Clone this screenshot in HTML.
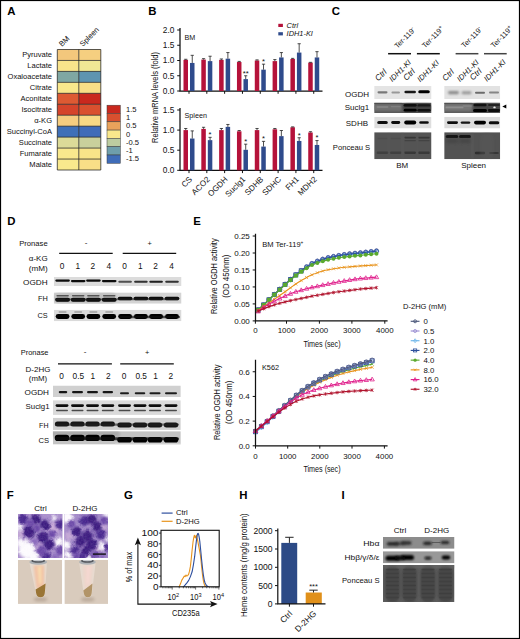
<!DOCTYPE html>
<html><head><meta charset="utf-8"><title>Figure</title>
<style>
html,body{margin:0;padding:0;background:#fff;}
body{width:520px;height:639px;overflow:hidden;font-family:"Liberation Sans",sans-serif;}
svg{display:block;font-family:"Liberation Sans",sans-serif;}
</style></head><body>
<svg width="520" height="639" viewBox="0 0 520 639">
<defs>
<filter id="b1" x="-30%" y="-200%" width="160%" height="500%"><feGaussianBlur stdDeviation="0.6"/></filter>
<filter id="b15" x="-30%" y="-200%" width="160%" height="500%"><feGaussianBlur stdDeviation="0.7"/></filter>
<filter id="b2" x="-30%" y="-200%" width="160%" height="500%"><feGaussianBlur stdDeviation="1.0"/></filter>
<filter id="b3" x="-20%" y="-20%" width="140%" height="140%"><feGaussianBlur stdDeviation="1.6"/></filter>
<filter id="b4" x="-20%" y="-20%" width="140%" height="140%"><feGaussianBlur stdDeviation="2.5"/></filter>
<filter id="disp" x="-5%" y="-5%" width="110%" height="110%"><feTurbulence type="fractalNoise" baseFrequency="0.2" numOctaves="2" seed="7" result="n"/><feDisplacementMap in="SourceGraphic" in2="n" scale="4" xChannelSelector="R" yChannelSelector="G"/></filter>
<filter id="grain" x="0" y="0" width="100%" height="100%"><feTurbulence type="fractalNoise" baseFrequency="0.55" numOctaves="2" seed="3" result="n"/><feColorMatrix in="n" type="matrix" values="0 0 0 0 0  0 0 0 0 0  0 0 0 0 0  0.9 0 0 0 -0.28" result="a"/><feComposite in="SourceGraphic" in2="a" operator="in"/></filter>
</defs>
<rect x="0" y="0" width="520" height="639" fill="#fff"/>

<text x="7.30" y="14.80" font-size="11.4" text-anchor="start" fill="#000" font-weight="bold" >A</text>
<text x="148.30" y="14.80" font-size="11.4" text-anchor="start" fill="#000" font-weight="bold" >B</text>
<text x="331.80" y="14.80" font-size="11.4" text-anchor="start" fill="#000" font-weight="bold" >C</text>
<text x="7.20" y="224.90" font-size="11.4" text-anchor="start" fill="#000" font-weight="bold" >D</text>
<text x="193.30" y="225.20" font-size="11.4" text-anchor="start" fill="#000" font-weight="bold" >E</text>
<text x="6.80" y="499.30" font-size="11.4" text-anchor="start" fill="#000" font-weight="bold" >F</text>
<text x="124.00" y="499.30" font-size="11.4" text-anchor="start" fill="#000" font-weight="bold" >G</text>
<text x="239.30" y="499.30" font-size="11.4" text-anchor="start" fill="#000" font-weight="bold" >H</text>
<text x="341.60" y="499.30" font-size="11.4" text-anchor="start" fill="#000" font-weight="bold" >I</text>
<rect x="57.3" y="49.50" width="21.50" height="10.95" fill="#f3c77c"/>
<rect x="78.8" y="49.50" width="22.00" height="10.95" fill="#f5cf80"/>
<text x="52.00" y="57.38" font-size="7.55" text-anchor="end" fill="#111" >Pyruvate</text>
<rect x="57.3" y="60.45" width="21.50" height="10.95" fill="#f9e48b"/>
<rect x="78.8" y="60.45" width="22.00" height="10.95" fill="#efe895"/>
<text x="52.00" y="68.33" font-size="7.55" text-anchor="end" fill="#111" >Lactate</text>
<rect x="57.3" y="71.41" width="21.50" height="10.95" fill="#7fa7a3"/>
<rect x="78.8" y="71.41" width="22.00" height="10.95" fill="#5e94b0"/>
<text x="52.00" y="79.29" font-size="7.55" text-anchor="end" fill="#111" >Oxaloacetate</text>
<rect x="57.3" y="82.36" width="21.50" height="10.95" fill="#f9e88c"/>
<rect x="78.8" y="82.36" width="22.00" height="10.95" fill="#f8de87"/>
<text x="52.00" y="90.24" font-size="7.55" text-anchor="end" fill="#111" >Citrate</text>
<rect x="57.3" y="93.32" width="21.50" height="10.95" fill="#dd5a33"/>
<rect x="78.8" y="93.32" width="22.00" height="10.95" fill="#c9281e"/>
<text x="52.00" y="101.20" font-size="7.55" text-anchor="end" fill="#111" >Aconitate</text>
<rect x="57.3" y="104.27" width="21.50" height="10.95" fill="#d5442b"/>
<rect x="78.8" y="104.27" width="22.00" height="10.95" fill="#d9502f"/>
<text x="52.00" y="112.15" font-size="7.55" text-anchor="end" fill="#111" >Isocitrate</text>
<rect x="57.3" y="115.23" width="21.50" height="10.95" fill="#f5cd80"/>
<rect x="78.8" y="115.23" width="22.00" height="10.95" fill="#f7d985"/>
<text x="52.00" y="123.10" font-size="7.55" text-anchor="end" fill="#111" >α-KG</text>
<rect x="57.3" y="126.18" width="21.50" height="10.95" fill="#3f70b8"/>
<rect x="78.8" y="126.18" width="22.00" height="10.95" fill="#3f6cb8"/>
<text x="52.00" y="134.06" font-size="7.55" text-anchor="end" fill="#111" >Succinyl-CoA</text>
<rect x="57.3" y="137.14" width="21.50" height="10.95" fill="#dcdb98"/>
<rect x="78.8" y="137.14" width="22.00" height="10.95" fill="#c9d09c"/>
<text x="52.00" y="145.01" font-size="7.55" text-anchor="end" fill="#111" >Succinate</text>
<rect x="57.3" y="148.09" width="21.50" height="10.95" fill="#f9e98d"/>
<rect x="78.8" y="148.09" width="22.00" height="10.95" fill="#f8e489"/>
<text x="52.00" y="155.97" font-size="7.55" text-anchor="end" fill="#111" >Fumarate</text>
<rect x="57.3" y="159.05" width="21.50" height="10.95" fill="#f9e98d"/>
<rect x="78.8" y="159.05" width="22.00" height="10.95" fill="#f8df87"/>
<text x="52.00" y="166.92" font-size="7.55" text-anchor="end" fill="#111" >Malate</text>
<path d="M57.3 49.50H100.8M57.3 60.45H100.8M57.3 71.41H100.8M57.3 82.36H100.8M57.3 93.32H100.8M57.3 104.27H100.8M57.3 115.23H100.8M57.3 126.18H100.8M57.3 137.14H100.8M57.3 148.09H100.8M57.3 159.05H100.8M57.3 170.00H100.8M57.3 49.5V170.0M78.8 49.5V170.0M100.8 49.5V170.0" stroke="#222" stroke-width="0.75" fill="none"/>
<text x="62.00" y="47.00" font-size="7.6" text-anchor="start" fill="#111" transform="rotate(-45 62.00 47.00)" >BM</text>
<text x="82.80" y="47.00" font-size="7.6" text-anchor="start" fill="#111" transform="rotate(-45 82.80 47.00)" >Spleen</text>
<rect x="107" y="105.20" width="13.3" height="8.30" fill="#c9281e" stroke="#3a3a3a" stroke-width="0.5"/>
<text x="126.00" y="111.65" font-size="7.6" text-anchor="start" fill="#111" >1.5</text>
<rect x="107" y="113.50" width="13.3" height="8.30" fill="#d9502f" stroke="#3a3a3a" stroke-width="0.5"/>
<text x="126.00" y="119.95" font-size="7.6" text-anchor="start" fill="#111" >1</text>
<rect x="107" y="121.80" width="13.3" height="8.30" fill="#e9a25b" stroke="#3a3a3a" stroke-width="0.5"/>
<text x="126.00" y="128.25" font-size="7.6" text-anchor="start" fill="#111" >0.5</text>
<rect x="107" y="130.10" width="13.3" height="8.30" fill="#f9e88c" stroke="#3a3a3a" stroke-width="0.5"/>
<text x="126.00" y="136.55" font-size="7.6" text-anchor="start" fill="#111" >0</text>
<rect x="107" y="138.40" width="13.3" height="8.30" fill="#bccca0" stroke="#3a3a3a" stroke-width="0.5"/>
<text x="126.00" y="144.85" font-size="7.6" text-anchor="start" fill="#111" >-0.5</text>
<rect x="107" y="146.70" width="13.3" height="8.30" fill="#6e9eab" stroke="#3a3a3a" stroke-width="0.5"/>
<text x="126.00" y="153.15" font-size="7.6" text-anchor="start" fill="#111" >-1</text>
<rect x="107" y="155.00" width="13.3" height="8.30" fill="#3f6cb8" stroke="#3a3a3a" stroke-width="0.5"/>
<text x="126.00" y="161.45" font-size="7.6" text-anchor="start" fill="#111" >-1.5</text>
<path d="M180.0 28.00V91.0H322.5" stroke="#111" stroke-width="1.25" fill="none"/>
<path d="M177.2 91.00H180.0" stroke="#111" stroke-width="1.0"/>
<text x="174.40" y="93.95" font-size="8.3" text-anchor="end" fill="#111" >0.0</text>
<path d="M177.2 75.75H180.0" stroke="#111" stroke-width="1.0"/>
<text x="174.40" y="78.70" font-size="8.3" text-anchor="end" fill="#111" >0.5</text>
<path d="M177.2 60.50H180.0" stroke="#111" stroke-width="1.0"/>
<text x="174.40" y="63.45" font-size="8.3" text-anchor="end" fill="#111" >1.0</text>
<path d="M177.2 45.25H180.0" stroke="#111" stroke-width="1.0"/>
<text x="174.40" y="48.20" font-size="8.3" text-anchor="end" fill="#111" >1.5</text>
<path d="M177.2 30.00H180.0" stroke="#111" stroke-width="1.0"/>
<text x="174.40" y="32.95" font-size="8.3" text-anchor="end" fill="#111" >2.0</text>
<text x="184.50" y="39.50" font-size="7.2" text-anchor="start" fill="#111" >BM</text>
<rect x="183.50" y="59.89" width="4.5" height="31.11" fill="#b5123a"/>
<path d="M185.75 59.89V59.28M184.15 59.28H187.35" stroke="#222" stroke-width="0.8" fill="none"/>
<rect x="190.00" y="62.94" width="4.5" height="28.06" fill="#2f4b8c"/>
<path d="M192.25 62.94V55.32M190.65 55.32H193.85" stroke="#222" stroke-width="0.8" fill="none"/>
<path d="M189.00 91.0v2.8" stroke="#111" stroke-width="1.0"/>
<rect x="201.32" y="59.59" width="4.5" height="31.41" fill="#b5123a"/>
<path d="M203.57 59.59V58.67M201.97 58.67H205.17" stroke="#222" stroke-width="0.8" fill="none"/>
<rect x="207.82" y="61.11" width="4.5" height="29.89" fill="#2f4b8c"/>
<path d="M210.07 61.11V56.23M208.47 56.23H211.67" stroke="#222" stroke-width="0.8" fill="none"/>
<path d="M206.82 91.0v2.8" stroke="#111" stroke-width="1.0"/>
<rect x="219.14" y="59.89" width="4.5" height="31.11" fill="#b5123a"/>
<path d="M221.39 59.89V58.98M219.79 58.98H222.99" stroke="#222" stroke-width="0.8" fill="none"/>
<rect x="225.64" y="58.67" width="4.5" height="32.33" fill="#2f4b8c"/>
<path d="M227.89 58.67V52.57M226.29 52.57H229.49" stroke="#222" stroke-width="0.8" fill="none"/>
<path d="M224.64 91.0v2.8" stroke="#111" stroke-width="1.0"/>
<rect x="236.96" y="62.03" width="4.5" height="28.97" fill="#b5123a"/>
<path d="M239.21 62.03V61.41M237.61 61.41H240.81" stroke="#222" stroke-width="0.8" fill="none"/>
<rect x="243.46" y="79.11" width="4.5" height="11.89" fill="#2f4b8c"/>
<path d="M245.71 79.11V75.75M244.11 75.75H247.31" stroke="#222" stroke-width="0.8" fill="none"/>
<path d="M242.46 91.0v2.8" stroke="#111" stroke-width="1.0"/>
<text x="245.71" y="75.65" font-size="7.6" text-anchor="middle" fill="#111" >**</text>
<rect x="254.78" y="60.50" width="4.5" height="30.50" fill="#b5123a"/>
<path d="M257.03 60.50V59.89M255.43 59.89H258.63" stroke="#222" stroke-width="0.8" fill="none"/>
<rect x="261.28" y="69.65" width="4.5" height="21.35" fill="#2f4b8c"/>
<path d="M263.53 69.65V64.16M261.93 64.16H265.13" stroke="#222" stroke-width="0.8" fill="none"/>
<path d="M260.28 91.0v2.8" stroke="#111" stroke-width="1.0"/>
<text x="263.53" y="64.06" font-size="7.6" text-anchor="middle" fill="#111" >*</text>
<rect x="272.60" y="61.11" width="4.5" height="29.89" fill="#b5123a"/>
<path d="M274.85 61.11V59.59M273.25 59.59H276.45" stroke="#222" stroke-width="0.8" fill="none"/>
<rect x="279.10" y="57.45" width="4.5" height="33.55" fill="#2f4b8c"/>
<path d="M281.35 57.45V52.57M279.75 52.57H282.95" stroke="#222" stroke-width="0.8" fill="none"/>
<path d="M278.10 91.0v2.8" stroke="#111" stroke-width="1.0"/>
<rect x="290.42" y="58.98" width="4.5" height="32.02" fill="#b5123a"/>
<path d="M292.67 58.98V58.36M291.07 58.36H294.27" stroke="#222" stroke-width="0.8" fill="none"/>
<rect x="296.92" y="52.57" width="4.5" height="38.43" fill="#2f4b8c"/>
<path d="M299.17 52.57V43.73M297.57 43.73H300.77" stroke="#222" stroke-width="0.8" fill="none"/>
<path d="M295.92 91.0v2.8" stroke="#111" stroke-width="1.0"/>
<rect x="308.24" y="62.63" width="4.5" height="28.37" fill="#b5123a"/>
<path d="M310.49 62.63V62.33M308.89 62.33H312.09" stroke="#222" stroke-width="0.8" fill="none"/>
<rect x="314.74" y="57.45" width="4.5" height="33.55" fill="#2f4b8c"/>
<path d="M316.99 57.45V51.66M315.39 51.66H318.59" stroke="#222" stroke-width="0.8" fill="none"/>
<path d="M313.74 91.0v2.8" stroke="#111" stroke-width="1.0"/>
<path d="M180.0 108.00V170.3H322.5" stroke="#111" stroke-width="1.25" fill="none"/>
<path d="M177.2 170.30H180.0" stroke="#111" stroke-width="1.0"/>
<text x="174.40" y="173.25" font-size="8.3" text-anchor="end" fill="#111" >0.0</text>
<path d="M177.2 150.20H180.0" stroke="#111" stroke-width="1.0"/>
<text x="174.40" y="153.15" font-size="8.3" text-anchor="end" fill="#111" >0.5</text>
<path d="M177.2 130.10H180.0" stroke="#111" stroke-width="1.0"/>
<text x="174.40" y="133.05" font-size="8.3" text-anchor="end" fill="#111" >1.0</text>
<path d="M177.2 110.00H180.0" stroke="#111" stroke-width="1.0"/>
<text x="174.40" y="112.95" font-size="8.3" text-anchor="end" fill="#111" >1.5</text>
<text x="184.50" y="117.50" font-size="7.2" text-anchor="start" fill="#111" >Spleen</text>
<rect x="183.50" y="130.10" width="4.5" height="40.20" fill="#b5123a"/>
<path d="M185.75 130.10V128.49M184.15 128.49H187.35" stroke="#222" stroke-width="0.8" fill="none"/>
<rect x="190.00" y="138.54" width="4.5" height="31.76" fill="#2f4b8c"/>
<path d="M192.25 138.54V130.90M190.65 130.90H193.85" stroke="#222" stroke-width="0.8" fill="none"/>
<path d="M189.00 170.3v2.8" stroke="#111" stroke-width="1.0"/>
<text x="192.60" y="179.90" font-size="8.1" text-anchor="end" fill="#111" transform="rotate(-45 192.60 179.90)" >CS</text>
<rect x="201.32" y="128.89" width="4.5" height="41.41" fill="#b5123a"/>
<path d="M203.57 128.89V127.29M201.97 127.29H205.17" stroke="#222" stroke-width="0.8" fill="none"/>
<rect x="207.82" y="140.15" width="4.5" height="30.15" fill="#2f4b8c"/>
<path d="M210.07 140.15V137.34M208.47 137.34H211.67" stroke="#222" stroke-width="0.8" fill="none"/>
<path d="M206.82 170.3v2.8" stroke="#111" stroke-width="1.0"/>
<text x="210.07" y="137.24" font-size="7.6" text-anchor="middle" fill="#111" >*</text>
<text x="210.42" y="179.90" font-size="8.1" text-anchor="end" fill="#111" transform="rotate(-45 210.42 179.90)" >ACO2</text>
<rect x="219.14" y="130.10" width="4.5" height="40.20" fill="#b5123a"/>
<path d="M221.39 130.10V128.49M219.79 128.49H222.99" stroke="#222" stroke-width="0.8" fill="none"/>
<rect x="225.64" y="126.88" width="4.5" height="43.42" fill="#2f4b8c"/>
<path d="M227.89 126.88V124.47M226.29 124.47H229.49" stroke="#222" stroke-width="0.8" fill="none"/>
<path d="M224.64 170.3v2.8" stroke="#111" stroke-width="1.0"/>
<text x="228.24" y="179.90" font-size="8.1" text-anchor="end" fill="#111" transform="rotate(-45 228.24 179.90)" >OGDH</text>
<rect x="236.96" y="131.31" width="4.5" height="38.99" fill="#b5123a"/>
<path d="M239.21 131.31V130.50M237.61 130.50H240.81" stroke="#222" stroke-width="0.8" fill="none"/>
<rect x="243.46" y="149.80" width="4.5" height="20.50" fill="#2f4b8c"/>
<path d="M245.71 149.80V144.17M244.11 144.17H247.31" stroke="#222" stroke-width="0.8" fill="none"/>
<path d="M242.46 170.3v2.8" stroke="#111" stroke-width="1.0"/>
<text x="245.71" y="144.07" font-size="7.6" text-anchor="middle" fill="#111" >*</text>
<text x="246.06" y="179.90" font-size="8.1" text-anchor="end" fill="#111" transform="rotate(-45 246.06 179.90)" >Suclg1</text>
<rect x="254.78" y="130.10" width="4.5" height="40.20" fill="#b5123a"/>
<path d="M257.03 130.10V128.49M255.43 128.49H258.63" stroke="#222" stroke-width="0.8" fill="none"/>
<rect x="261.28" y="146.58" width="4.5" height="23.72" fill="#2f4b8c"/>
<path d="M263.53 146.58V141.36M261.93 141.36H265.13" stroke="#222" stroke-width="0.8" fill="none"/>
<path d="M260.28 170.3v2.8" stroke="#111" stroke-width="1.0"/>
<text x="263.53" y="141.26" font-size="7.6" text-anchor="middle" fill="#111" >*</text>
<text x="263.88" y="179.90" font-size="8.1" text-anchor="end" fill="#111" transform="rotate(-45 263.88 179.90)" >SDHB</text>
<rect x="272.60" y="129.30" width="4.5" height="41.00" fill="#b5123a"/>
<path d="M274.85 129.30V128.49M273.25 128.49H276.45" stroke="#222" stroke-width="0.8" fill="none"/>
<rect x="279.10" y="136.13" width="4.5" height="34.17" fill="#2f4b8c"/>
<path d="M281.35 136.13V130.50M279.75 130.50H282.95" stroke="#222" stroke-width="0.8" fill="none"/>
<path d="M278.10 170.3v2.8" stroke="#111" stroke-width="1.0"/>
<text x="281.70" y="179.90" font-size="8.1" text-anchor="end" fill="#111" transform="rotate(-45 281.70 179.90)" >SDHC</text>
<rect x="290.42" y="127.29" width="4.5" height="43.01" fill="#b5123a"/>
<path d="M292.67 127.29V126.88M291.07 126.88H294.27" stroke="#222" stroke-width="0.8" fill="none"/>
<rect x="296.92" y="140.95" width="4.5" height="29.35" fill="#2f4b8c"/>
<path d="M299.17 140.95V137.74M297.57 137.74H300.77" stroke="#222" stroke-width="0.8" fill="none"/>
<path d="M295.92 170.3v2.8" stroke="#111" stroke-width="1.0"/>
<text x="299.17" y="137.64" font-size="7.6" text-anchor="middle" fill="#111" >*</text>
<text x="299.52" y="179.90" font-size="8.1" text-anchor="end" fill="#111" transform="rotate(-45 299.52 179.90)" >FH1</text>
<rect x="308.24" y="132.51" width="4.5" height="37.79" fill="#b5123a"/>
<path d="M310.49 132.51V131.71M308.89 131.71H312.09" stroke="#222" stroke-width="0.8" fill="none"/>
<rect x="314.74" y="144.97" width="4.5" height="25.33" fill="#2f4b8c"/>
<path d="M316.99 144.97V140.55M315.39 140.55H318.59" stroke="#222" stroke-width="0.8" fill="none"/>
<path d="M313.74 170.3v2.8" stroke="#111" stroke-width="1.0"/>
<text x="316.99" y="140.45" font-size="7.6" text-anchor="middle" fill="#111" >*</text>
<text x="317.34" y="179.90" font-size="8.1" text-anchor="end" fill="#111" transform="rotate(-45 317.34 179.90)" >MDH2</text>
<text x="157.60" y="97.50" font-size="8.6" text-anchor="middle" fill="#111" transform="rotate(-90 157.60 97.50)" textLength="91.00" lengthAdjust="spacingAndGlyphs" >Relative mRNA levels (fold)</text>
<rect x="278.3" y="23.8" width="4.6" height="3.2" fill="#b5123a"/>
<rect x="278.3" y="32.2" width="4.6" height="3.2" fill="#2f4b8c"/>
<text x="286.60" y="27.70" font-size="7.4" text-anchor="start" fill="#111" font-style="italic" >Ctrl</text>
<text x="286.60" y="36.10" font-size="7.4" text-anchor="start" fill="#111" font-style="italic" >IDH1-KI</text>
<path d="M388.1 53.7H411.0" stroke="#111" stroke-width="1.5"/>
<path d="M416.9 53.7H439.8" stroke="#111" stroke-width="1.5"/>
<path d="M455.6 53.7H478.4" stroke="#444" stroke-width="1.5"/>
<path d="M484.0 53.7H506.7" stroke="#444" stroke-width="1.5"/>
<text x="397.4" y="48.8" font-size="7.3" fill="#111" transform="rotate(-45 397.4 48.8)">Ter-119<tspan dy="-2.8" font-size="5.6">-</tspan></text>
<text x="425.1" y="48.5" font-size="7.3" fill="#111" transform="rotate(-45 425.1 48.5)">Ter-119<tspan dy="-2.8" font-size="5.6">+</tspan></text>
<text x="464.3" y="48.3" font-size="7.3" fill="#111" transform="rotate(-45 464.3 48.3)">Ter-119<tspan dy="-2.8" font-size="5.6">-</tspan></text>
<text x="493.8" y="48.3" font-size="7.3" fill="#111" transform="rotate(-45 493.8 48.3)">Ter-119<tspan dy="-2.8" font-size="5.6">+</tspan></text>
<text x="378.20" y="81.60" font-size="8.3" text-anchor="start" fill="#111" font-style="italic" transform="rotate(-45 378.20 81.60)" >Ctrl</text>
<text x="392.30" y="82.30" font-size="7.7" text-anchor="start" fill="#111" font-style="italic" transform="rotate(-45 392.30 82.30)" >IDH1-KI</text>
<text x="406.50" y="81.10" font-size="8.3" text-anchor="start" fill="#111" font-style="italic" transform="rotate(-45 406.50 81.10)" >Ctrl</text>
<text x="420.30" y="82.60" font-size="7.7" text-anchor="start" fill="#111" font-style="italic" transform="rotate(-45 420.30 82.60)" >IDH1-KI</text>
<text x="445.40" y="81.60" font-size="8.3" text-anchor="start" fill="#111" font-style="italic" transform="rotate(-45 445.40 81.60)" >Ctrl</text>
<text x="460.00" y="82.30" font-size="7.7" text-anchor="start" fill="#111" font-style="italic" transform="rotate(-45 460.00 82.30)" >IDH1-KI</text>
<text x="473.10" y="80.80" font-size="8.3" text-anchor="start" fill="#111" font-style="italic" transform="rotate(-45 473.10 80.80)" >Ctrl</text>
<text x="487.00" y="82.00" font-size="7.7" text-anchor="start" fill="#111" font-style="italic" transform="rotate(-45 487.00 82.00)" >IDH1-KI</text>
<text x="357.10" y="96.50" font-size="8.0" text-anchor="middle" fill="#111" >OGDH</text>
<text x="356.90" y="109.70" font-size="8.0" text-anchor="middle" fill="#111" >Suclg1</text>
<text x="356.90" y="125.70" font-size="8.0" text-anchor="middle" fill="#111" >SDHB</text>
<text x="370.20" y="150.00" font-size="8.0" text-anchor="end" fill="#111" textLength="37.40" lengthAdjust="spacingAndGlyphs" >Ponceau S</text>
<text x="402.20" y="167.50" font-size="8.0" text-anchor="middle" fill="#111" >BM</text>
<text x="473.60" y="167.50" font-size="8.0" text-anchor="middle" fill="#111" >Spleen</text>
<path d="M502.3 106.5L506.3 104.6V108.4Z" fill="#000"/>
<clipPath id="c1"><rect x="374.20" y="86.00" width="57.30" height="13.00"/></clipPath><g clip-path="url(#c1)"><rect x="374.20" y="86.00" width="57.30" height="13.00" fill="#e4e4e4"/><rect x="377.50" y="91.20" width="10.00" height="2.20" rx="1.10" fill="#555" opacity="0.75" filter="url(#b1)"/><rect x="391.45" y="91.50" width="8.50" height="2.00" rx="1.00" fill="#666" opacity="0.6" filter="url(#b1)"/><rect x="404.45" y="90.70" width="11.50" height="2.60" rx="1.30" fill="#111" opacity="0.95" filter="url(#b1)"/><rect x="418.25" y="90.30" width="11.50" height="3.00" rx="1.50" fill="#050505" opacity="1" filter="url(#b1)"/></g>
<clipPath id="c2"><rect x="444.20" y="86.00" width="56.00" height="13.00"/></clipPath><g clip-path="url(#c2)"><rect x="444.20" y="86.00" width="56.00" height="13.00" fill="#e2e2e2"/><rect x="448.00" y="91.00" width="11.00" height="3.20" rx="1.60" fill="#666" opacity="0.7" filter="url(#b2)"/><rect x="461.50" y="91.30" width="10.00" height="3.00" rx="1.50" fill="#666" opacity="0.6" filter="url(#b2)"/><rect x="475.00" y="91.70" width="10.00" height="2.00" rx="1.00" fill="#444" opacity="0.75" filter="url(#b1)"/><rect x="489.00" y="91.60" width="10.00" height="1.80" rx="0.90" fill="#555" opacity="0.65" filter="url(#b1)"/></g>
<clipPath id="c3"><rect x="374.20" y="102.60" width="57.30" height="10.40"/></clipPath><g clip-path="url(#c3)"><rect x="374.20" y="102.60" width="57.30" height="10.40" fill="#585858"/><rect x="372.50" y="104.10" width="30.00" height="7.00" rx="3.50" fill="#7a7a7a" opacity="0.75" filter="url(#b2)"/><rect x="376.50" y="106.20" width="12.00" height="1.60" rx="0.80" fill="#9a9a9a" opacity="0.6" filter="url(#b1)"/><rect x="390.70" y="105.90" width="10.00" height="1.40" rx="0.70" fill="#909090" opacity="0.5" filter="url(#b1)"/><rect x="372.50" y="102.70" width="30.00" height="1.40" rx="0.70" fill="#444" opacity="0.6" filter="url(#b1)"/><rect x="402.70" y="103.30" width="29.00" height="9.00" rx="4.50" fill="#3a3a3a" opacity="0.8" filter="url(#b2)"/><rect x="403.70" y="103.90" width="13.00" height="2.60" rx="1.30" fill="#0c0c0c" opacity="0.95" filter="url(#b1)"/><rect x="403.70" y="108.80" width="13.00" height="2.80" rx="1.40" fill="#060606" opacity="1" filter="url(#b1)"/><rect x="417.50" y="104.20" width="13.00" height="2.40" rx="1.20" fill="#141414" opacity="0.9" filter="url(#b1)"/><rect x="417.50" y="108.90" width="13.00" height="2.60" rx="1.30" fill="#0a0a0a" opacity="0.95" filter="url(#b1)"/></g>
<clipPath id="c4"><rect x="444.20" y="102.60" width="56.00" height="10.40"/></clipPath><g clip-path="url(#c4)"><rect x="444.20" y="102.60" width="56.00" height="10.40" fill="#5c5c5c"/><rect x="442.50" y="103.90" width="30.00" height="7.00" rx="3.50" fill="#808080" opacity="0.75" filter="url(#b2)"/><rect x="445.50" y="106.50" width="18.00" height="1.80" rx="0.90" fill="#a0a0a0" opacity="0.6" filter="url(#b1)"/><rect x="462.50" y="105.30" width="10.00" height="1.40" rx="0.70" fill="#959595" opacity="0.5" filter="url(#b1)"/><rect x="442.50" y="102.70" width="30.00" height="1.40" rx="0.70" fill="#484848" opacity="0.6" filter="url(#b1)"/><rect x="473.00" y="103.30" width="28.00" height="9.00" rx="4.50" fill="#404040" opacity="0.8" filter="url(#b2)"/><rect x="473.50" y="103.80" width="13.00" height="2.40" rx="1.20" fill="#101010" opacity="0.9" filter="url(#b1)"/><rect x="473.00" y="109.00" width="14.00" height="3.00" rx="1.50" fill="#040404" opacity="1" filter="url(#b1)"/><rect x="488.00" y="103.90" width="12.00" height="2.20" rx="1.10" fill="#1a1a1a" opacity="0.85" filter="url(#b1)"/><rect x="488.00" y="109.10" width="12.00" height="2.80" rx="1.40" fill="#080808" opacity="1" filter="url(#b1)"/><rect x="493.30" y="106.50" width="2.40" height="1.80" rx="0.90" fill="#f4f4f4" opacity="0.95" filter="url(#b1)"/></g>
<clipPath id="c5"><rect x="374.20" y="116.70" width="57.30" height="11.80"/></clipPath><g clip-path="url(#c5)"><rect x="374.20" y="116.70" width="57.30" height="11.80" fill="#dedede"/><rect x="377.25" y="121.10" width="10.50" height="3.00" rx="1.50" fill="#0a0a0a" opacity="1" filter="url(#b1)"/><rect x="391.20" y="121.10" width="9.00" height="2.80" rx="1.40" fill="#111" opacity="1" filter="url(#b1)"/><rect x="404.20" y="120.60" width="12.00" height="4.00" rx="2.00" fill="#000" opacity="1" filter="url(#b1)"/><rect x="419.25" y="121.20" width="9.50" height="2.60" rx="1.30" fill="#111" opacity="1" filter="url(#b1)"/></g>
<clipPath id="c6"><rect x="444.20" y="116.70" width="56.00" height="11.80"/></clipPath><g clip-path="url(#c6)"><rect x="444.20" y="116.70" width="56.00" height="11.80" fill="#dcdcdc"/><rect x="447.00" y="121.30" width="11.00" height="2.60" rx="1.30" fill="#111" opacity="1" filter="url(#b1)"/><rect x="460.75" y="121.40" width="9.50" height="2.40" rx="1.20" fill="#151515" opacity="1" filter="url(#b1)"/><rect x="474.00" y="120.80" width="12.00" height="3.60" rx="1.80" fill="#000" opacity="1" filter="url(#b1)"/><rect x="488.75" y="121.30" width="10.50" height="3.00" rx="1.50" fill="#0a0a0a" opacity="1" filter="url(#b1)"/></g>
<clipPath id="c7"><rect x="374.20" y="132.20" width="57.30" height="27.00"/></clipPath><g clip-path="url(#c7)"><rect x="374.20" y="132.20" width="57.30" height="27.00" fill="#545454"/><rect x="404.45" y="136.70" width="11.50" height="1.80" rx="0.90" fill="#2e2e2e" opacity="0.75" filter="url(#b15)"/><rect x="418.25" y="136.70" width="11.50" height="1.80" rx="0.90" fill="#2e2e2e" opacity="0.75" filter="url(#b15)"/><rect x="404.45" y="139.90" width="11.50" height="1.40" rx="0.70" fill="#333" opacity="0.5" filter="url(#b15)"/><rect x="418.25" y="139.90" width="11.50" height="1.40" rx="0.70" fill="#333" opacity="0.5" filter="url(#b15)"/><rect x="377.50" y="137.70" width="10.00" height="1.60" rx="0.80" fill="#444" opacity="0.4" filter="url(#b15)"/><rect x="390.70" y="137.70" width="10.00" height="1.60" rx="0.80" fill="#444" opacity="0.45" filter="url(#b15)"/><rect x="376.75" y="151.60" width="11.50" height="2.40" rx="1.20" fill="#383838" opacity="0.7" filter="url(#b15)"/><rect x="389.95" y="151.60" width="11.50" height="2.40" rx="1.20" fill="#383838" opacity="0.7" filter="url(#b15)"/><rect x="404.45" y="151.50" width="11.50" height="2.60" rx="1.30" fill="#303030" opacity="0.8" filter="url(#b15)"/><rect x="418.25" y="151.50" width="11.50" height="2.60" rx="1.30" fill="#303030" opacity="0.8" filter="url(#b15)"/><rect x="401.90" y="132.50" width="1.60" height="27.00" rx="0.80" fill="#626262" opacity="0.5" filter="url(#b2)"/><rect x="388.30" y="132.50" width="1.40" height="27.00" rx="0.70" fill="#5e5e5e" opacity="0.4" filter="url(#b2)"/><rect x="416.50" y="132.50" width="1.40" height="27.00" rx="0.70" fill="#5e5e5e" opacity="0.4" filter="url(#b2)"/></g>
<clipPath id="c8"><rect x="444.20" y="132.20" width="56.00" height="27.00"/></clipPath><g clip-path="url(#c8)"><rect x="444.20" y="132.20" width="56.00" height="27.00" fill="#525252"/><rect x="445.75" y="135.10" width="12.50" height="3.00" rx="1.50" fill="#181818" opacity="1" filter="url(#b15)"/><rect x="459.00" y="135.10" width="12.00" height="3.00" rx="1.50" fill="#181818" opacity="1" filter="url(#b15)"/><rect x="446.00" y="138.50" width="12.00" height="5.00" rx="2.50" fill="#404040" opacity="0.5" filter="url(#b2)"/><rect x="459.00" y="138.50" width="12.00" height="5.00" rx="2.50" fill="#404040" opacity="0.5" filter="url(#b2)"/><rect x="474.75" y="151.80" width="10.50" height="2.40" rx="1.20" fill="#2a2a2a" opacity="0.85" filter="url(#b15)"/><rect x="489.25" y="151.90" width="9.50" height="2.20" rx="1.10" fill="#2e2e2e" opacity="0.75" filter="url(#b15)"/><rect x="471.40" y="132.50" width="1.80" height="27.00" rx="0.90" fill="#646464" opacity="0.5" filter="url(#b2)"/><rect x="480.00" y="132.50" width="14.00" height="27.00" rx="7.00" fill="#5c5c5c" opacity="0.35" filter="url(#b2)"/></g>
<text x="47.70" y="245.80" font-size="8.0" text-anchor="end" fill="#111" textLength="28.50" lengthAdjust="spacingAndGlyphs" >Pronase</text>
<text x="86.00" y="245.00" font-size="8" text-anchor="middle" fill="#111" >-</text>
<text x="149.60" y="245.90" font-size="7.4" text-anchor="middle" fill="#111" >+</text>
<path d="M59.2 253.3H112.7M122.7 253.3H176.2" stroke="#111" stroke-width="1.25"/>
<text x="47.70" y="261.30" font-size="8.0" text-anchor="end" fill="#111" textLength="18.90" lengthAdjust="spacingAndGlyphs" >α-KG</text>
<text x="47.70" y="270.80" font-size="8.0" text-anchor="end" fill="#111" textLength="18.90" lengthAdjust="spacingAndGlyphs" >(mM)</text>
<text x="62.10" y="269.20" font-size="8.3" text-anchor="middle" fill="#111" >0</text>
<text x="77.70" y="269.20" font-size="8.3" text-anchor="middle" fill="#111" >1</text>
<text x="92.90" y="269.20" font-size="8.3" text-anchor="middle" fill="#111" >2</text>
<text x="108.70" y="269.20" font-size="8.3" text-anchor="middle" fill="#111" >4</text>
<text x="124.60" y="269.20" font-size="8.3" text-anchor="middle" fill="#111" >0</text>
<text x="140.40" y="269.20" font-size="8.3" text-anchor="middle" fill="#111" >1</text>
<text x="155.60" y="269.20" font-size="8.3" text-anchor="middle" fill="#111" >2</text>
<text x="171.50" y="269.20" font-size="8.3" text-anchor="middle" fill="#111" >4</text>
<text x="47.70" y="285.00" font-size="8.0" text-anchor="end" fill="#111" textLength="24.60" lengthAdjust="spacingAndGlyphs" >OGDH</text>
<text x="47.70" y="301.00" font-size="8.0" text-anchor="end" fill="#111" textLength="9.80" lengthAdjust="spacingAndGlyphs" >FH</text>
<text x="47.70" y="318.20" font-size="8.0" text-anchor="end" fill="#111" textLength="10.20" lengthAdjust="spacingAndGlyphs" >CS</text>
<clipPath id="c9"><rect x="53.80" y="277.00" width="127.70" height="9.00"/></clipPath><g clip-path="url(#c9)"><rect x="53.80" y="277.00" width="127.70" height="9.00" fill="#dcdcdc"/><rect x="55.30" y="279.45" width="14.60" height="2.30" rx="1.15" fill="#0a0a0a" opacity="1" filter="url(#b1)"/><rect x="70.90" y="279.95" width="14.60" height="2.30" rx="1.15" fill="#0a0a0a" opacity="1" filter="url(#b1)"/><rect x="86.10" y="279.45" width="14.60" height="2.30" rx="1.15" fill="#0a0a0a" opacity="1" filter="url(#b1)"/><rect x="101.90" y="279.95" width="14.60" height="2.30" rx="1.15" fill="#0a0a0a" opacity="1" filter="url(#b1)"/><rect x="118.30" y="280.80" width="13.60" height="2.00" rx="1.00" fill="#151515" opacity="0.7" filter="url(#b1)"/><rect x="134.10" y="280.80" width="13.60" height="2.00" rx="1.00" fill="#151515" opacity="0.85" filter="url(#b1)"/><rect x="149.30" y="280.80" width="13.60" height="2.00" rx="1.00" fill="#151515" opacity="0.95" filter="url(#b1)"/><rect x="165.20" y="280.80" width="13.60" height="2.00" rx="1.00" fill="#151515" opacity="0.85" filter="url(#b1)"/></g>
<clipPath id="c10"><rect x="53.80" y="292.40" width="127.70" height="11.30"/></clipPath><g clip-path="url(#c10)"><rect x="53.80" y="292.40" width="127.70" height="11.30" fill="#d4d4d4"/><rect x="53.00" y="292.00" width="64.00" height="12.00" rx="6.00" fill="#c4c4c4" opacity="1" filter="url(#b2)"/><rect x="56.35" y="294.95" width="12.50" height="1.50" rx="0.75" fill="#3a3a3a" opacity="0.8" filter="url(#b1)"/><rect x="55.20" y="297.70" width="14.80" height="4.00" rx="2.00" fill="#080808" opacity="1" filter="url(#b15)"/><rect x="71.95" y="294.95" width="12.50" height="1.50" rx="0.75" fill="#3a3a3a" opacity="0.8" filter="url(#b1)"/><rect x="70.80" y="297.70" width="14.80" height="4.00" rx="2.00" fill="#080808" opacity="1" filter="url(#b15)"/><rect x="87.15" y="294.95" width="12.50" height="1.50" rx="0.75" fill="#3a3a3a" opacity="0.8" filter="url(#b1)"/><rect x="86.00" y="297.70" width="14.80" height="4.00" rx="2.00" fill="#080808" opacity="1" filter="url(#b15)"/><rect x="102.95" y="294.95" width="12.50" height="1.50" rx="0.75" fill="#3a3a3a" opacity="0.8" filter="url(#b1)"/><rect x="101.80" y="297.70" width="14.80" height="4.00" rx="2.00" fill="#080808" opacity="1" filter="url(#b15)"/><rect x="117.70" y="296.70" width="14.80" height="3.60" rx="1.80" fill="#0e0e0e" opacity="1" filter="url(#b15)"/><rect x="133.50" y="296.70" width="14.80" height="3.60" rx="1.80" fill="#0e0e0e" opacity="1" filter="url(#b15)"/><rect x="148.70" y="296.70" width="14.80" height="3.60" rx="1.80" fill="#0e0e0e" opacity="1" filter="url(#b15)"/><rect x="164.60" y="296.70" width="14.80" height="3.60" rx="1.80" fill="#0e0e0e" opacity="1" filter="url(#b15)"/><rect x="55.00" y="298.40" width="124.00" height="1.80" rx="0.90" fill="#222" opacity="0.6" filter="url(#b1)"/></g>
<clipPath id="c11"><rect x="53.80" y="309.80" width="127.70" height="11.50"/></clipPath><g clip-path="url(#c11)"><rect x="53.80" y="309.80" width="127.70" height="11.50" fill="#dadada"/><rect x="55.70" y="314.05" width="13.80" height="4.90" rx="2.45" fill="#050505" opacity="1" filter="url(#b15)"/><rect x="58.60" y="311.35" width="8.00" height="1.30" rx="0.65" fill="#777" opacity="0.6" filter="url(#b1)"/><rect x="71.30" y="314.05" width="13.80" height="4.90" rx="2.45" fill="#050505" opacity="1" filter="url(#b15)"/><rect x="74.20" y="311.35" width="8.00" height="1.30" rx="0.65" fill="#777" opacity="0.6" filter="url(#b1)"/><rect x="86.50" y="314.05" width="13.80" height="4.90" rx="2.45" fill="#050505" opacity="1" filter="url(#b15)"/><rect x="89.40" y="311.35" width="8.00" height="1.30" rx="0.65" fill="#777" opacity="0.6" filter="url(#b1)"/><rect x="102.30" y="314.05" width="13.80" height="4.90" rx="2.45" fill="#050505" opacity="1" filter="url(#b15)"/><rect x="105.20" y="311.35" width="8.00" height="1.30" rx="0.65" fill="#777" opacity="0.6" filter="url(#b1)"/><rect x="118.20" y="314.05" width="13.80" height="4.90" rx="2.45" fill="#050505" opacity="1" filter="url(#b15)"/><rect x="134.00" y="314.05" width="13.80" height="4.90" rx="2.45" fill="#050505" opacity="1" filter="url(#b15)"/><rect x="149.20" y="314.05" width="13.80" height="4.90" rx="2.45" fill="#050505" opacity="1" filter="url(#b15)"/><rect x="165.10" y="314.05" width="13.80" height="4.90" rx="2.45" fill="#050505" opacity="1" filter="url(#b15)"/><rect x="120.00" y="315.80" width="60.00" height="2.40" rx="1.20" fill="#111" opacity="0.7" filter="url(#b1)"/></g>
<text x="48.50" y="355.00" font-size="8.0" text-anchor="end" fill="#111" textLength="27.70" lengthAdjust="spacingAndGlyphs" >Pronase</text>
<text x="85.00" y="354.20" font-size="8" text-anchor="middle" fill="#111" >-</text>
<text x="147.10" y="355.10" font-size="7.4" text-anchor="middle" fill="#111" >+</text>
<path d="M58 363.8H111.9M120.2 363.8H173.8" stroke="#111" stroke-width="1.25"/>
<text x="50.40" y="371.70" font-size="8.0" text-anchor="end" fill="#111" textLength="24.80" lengthAdjust="spacingAndGlyphs" >D-2HG</text>
<text x="47.10" y="381.30" font-size="8.0" text-anchor="end" fill="#111" textLength="18.30" lengthAdjust="spacingAndGlyphs" >(mM)</text>
<text x="61.50" y="378.90" font-size="8.3" text-anchor="middle" fill="#111" >0</text>
<text x="78.30" y="378.90" font-size="8.3" text-anchor="middle" fill="#111" >0.5</text>
<text x="92.90" y="378.90" font-size="8.3" text-anchor="middle" fill="#111" >1</text>
<text x="108.30" y="378.90" font-size="8.3" text-anchor="middle" fill="#111" >2</text>
<text x="124.00" y="378.90" font-size="8.3" text-anchor="middle" fill="#111" >0</text>
<text x="141.20" y="378.90" font-size="8.3" text-anchor="middle" fill="#111" >0.5</text>
<text x="155.60" y="378.90" font-size="8.3" text-anchor="middle" fill="#111" >1</text>
<text x="170.80" y="378.90" font-size="8.3" text-anchor="middle" fill="#111" >2</text>
<text x="49.00" y="394.80" font-size="8.0" text-anchor="end" fill="#111" textLength="24.40" lengthAdjust="spacingAndGlyphs" >OGDH</text>
<text x="49.60" y="409.20" font-size="8.0" text-anchor="end" fill="#111" textLength="24.00" lengthAdjust="spacingAndGlyphs" >Suclg1</text>
<text x="48.50" y="427.50" font-size="8.0" text-anchor="end" fill="#111" textLength="9.40" lengthAdjust="spacingAndGlyphs" >FH</text>
<text x="49.00" y="443.30" font-size="8.0" text-anchor="end" fill="#111" textLength="10.60" lengthAdjust="spacingAndGlyphs" >CS</text>
<clipPath id="c12"><rect x="52.90" y="385.50" width="127.90" height="11.60"/></clipPath><g clip-path="url(#c12)"><rect x="52.90" y="385.50" width="127.90" height="11.60" fill="#d0d0d0"/><rect x="58.75" y="390.90" width="8.50" height="2.40" rx="1.20" fill="#0c0c0c" opacity="0.95" filter="url(#b1)"/><rect x="72.00" y="390.90" width="11.00" height="2.40" rx="1.20" fill="#0c0c0c" opacity="0.95" filter="url(#b1)"/><rect x="87.00" y="390.90" width="11.00" height="2.40" rx="1.20" fill="#0c0c0c" opacity="0.95" filter="url(#b1)"/><rect x="102.55" y="390.90" width="10.50" height="2.40" rx="1.20" fill="#0c0c0c" opacity="0.95" filter="url(#b1)"/><rect x="120.00" y="392.30" width="9.00" height="2.00" rx="1.00" fill="#111" opacity="0.92" filter="url(#b1)"/><rect x="134.75" y="392.30" width="10.50" height="2.00" rx="1.00" fill="#111" opacity="0.92" filter="url(#b1)"/><rect x="149.50" y="392.30" width="11.00" height="2.00" rx="1.00" fill="#111" opacity="0.92" filter="url(#b1)"/><rect x="165.00" y="392.30" width="12.00" height="2.00" rx="1.00" fill="#111" opacity="0.92" filter="url(#b1)"/></g>
<clipPath id="c13"><rect x="52.90" y="400.20" width="127.90" height="14.70"/></clipPath><g clip-path="url(#c13)"><rect x="52.90" y="400.20" width="127.90" height="14.70" fill="#dadada"/><rect x="55.60" y="404.20" width="12.80" height="2.80" rx="1.40" fill="#0a0a0a" opacity="1" filter="url(#b1)"/><rect x="56.00" y="409.75" width="12.00" height="1.50" rx="0.75" fill="#333" opacity="0.85" filter="url(#b1)"/><rect x="71.10" y="404.20" width="12.80" height="2.80" rx="1.40" fill="#0a0a0a" opacity="1" filter="url(#b1)"/><rect x="71.50" y="409.75" width="12.00" height="1.50" rx="0.75" fill="#333" opacity="0.85" filter="url(#b1)"/><rect x="86.10" y="404.20" width="12.80" height="2.80" rx="1.40" fill="#0a0a0a" opacity="1" filter="url(#b1)"/><rect x="86.50" y="409.75" width="12.00" height="1.50" rx="0.75" fill="#333" opacity="0.85" filter="url(#b1)"/><rect x="101.40" y="404.20" width="12.80" height="2.80" rx="1.40" fill="#0a0a0a" opacity="1" filter="url(#b1)"/><rect x="101.80" y="409.75" width="12.00" height="1.50" rx="0.75" fill="#333" opacity="0.85" filter="url(#b1)"/><rect x="118.10" y="404.20" width="12.80" height="2.80" rx="1.40" fill="#0a0a0a" opacity="1" filter="url(#b1)"/><rect x="118.50" y="409.75" width="12.00" height="1.50" rx="0.75" fill="#333" opacity="0.85" filter="url(#b1)"/><rect x="133.60" y="404.20" width="12.80" height="2.80" rx="1.40" fill="#0a0a0a" opacity="1" filter="url(#b1)"/><rect x="134.00" y="409.75" width="12.00" height="1.50" rx="0.75" fill="#333" opacity="0.85" filter="url(#b1)"/><rect x="148.60" y="404.20" width="12.80" height="2.80" rx="1.40" fill="#0a0a0a" opacity="1" filter="url(#b1)"/><rect x="149.00" y="409.75" width="12.00" height="1.50" rx="0.75" fill="#333" opacity="0.85" filter="url(#b1)"/><rect x="164.60" y="404.20" width="12.80" height="2.80" rx="1.40" fill="#0a0a0a" opacity="1" filter="url(#b1)"/><rect x="165.00" y="409.75" width="12.00" height="1.50" rx="0.75" fill="#333" opacity="0.85" filter="url(#b1)"/></g>
<clipPath id="c14"><rect x="52.90" y="417.70" width="127.90" height="12.20"/></clipPath><g clip-path="url(#c14)"><rect x="52.90" y="417.70" width="127.90" height="12.20" fill="#d0d0d0"/><rect x="54.90" y="421.40" width="14.20" height="5.00" rx="2.50" fill="#161616" opacity="1" filter="url(#b15)"/><rect x="70.40" y="421.40" width="14.20" height="5.00" rx="2.50" fill="#161616" opacity="1" filter="url(#b15)"/><rect x="85.40" y="421.40" width="14.20" height="5.00" rx="2.50" fill="#161616" opacity="1" filter="url(#b15)"/><rect x="100.70" y="421.40" width="14.20" height="5.00" rx="2.50" fill="#161616" opacity="1" filter="url(#b15)"/><rect x="117.40" y="422.40" width="14.20" height="5.00" rx="2.50" fill="#161616" opacity="1" filter="url(#b15)"/><rect x="132.90" y="422.40" width="14.20" height="5.00" rx="2.50" fill="#161616" opacity="1" filter="url(#b15)"/><rect x="147.90" y="422.40" width="14.20" height="5.00" rx="2.50" fill="#161616" opacity="1" filter="url(#b15)"/><rect x="163.90" y="422.40" width="14.20" height="5.00" rx="2.50" fill="#161616" opacity="1" filter="url(#b15)"/><rect x="55.00" y="423.40" width="124.00" height="2.40" rx="1.20" fill="#222" opacity="0.6" filter="url(#b1)"/></g>
<clipPath id="c15"><rect x="52.90" y="431.20" width="127.90" height="13.40"/></clipPath><g clip-path="url(#c15)"><rect x="52.90" y="431.20" width="127.90" height="13.40" fill="#c4c4c4"/><rect x="50.00" y="431.00" width="70.00" height="6.00" rx="3.00" fill="#a8a8a8" opacity="0.9" filter="url(#b2)"/><rect x="115.00" y="443.40" width="66.00" height="1.60" rx="0.80" fill="#e6e6e6" opacity="0.9" filter="url(#b1)"/><rect x="54.70" y="434.80" width="14.60" height="6.20" rx="3.10" fill="#060606" opacity="1" filter="url(#b15)"/><rect x="70.20" y="434.80" width="14.60" height="6.20" rx="3.10" fill="#060606" opacity="1" filter="url(#b15)"/><rect x="85.20" y="434.80" width="14.60" height="6.20" rx="3.10" fill="#060606" opacity="1" filter="url(#b15)"/><rect x="100.50" y="434.80" width="14.60" height="6.20" rx="3.10" fill="#060606" opacity="1" filter="url(#b15)"/><rect x="117.20" y="437.00" width="14.60" height="5.60" rx="2.80" fill="#060606" opacity="1" filter="url(#b15)"/><rect x="132.70" y="437.00" width="14.60" height="5.60" rx="2.80" fill="#060606" opacity="1" filter="url(#b15)"/><rect x="147.70" y="437.00" width="14.60" height="5.60" rx="2.80" fill="#060606" opacity="1" filter="url(#b15)"/><rect x="163.70" y="437.00" width="14.60" height="5.60" rx="2.80" fill="#060606" opacity="1" filter="url(#b15)"/><rect x="55.00" y="437.30" width="124.00" height="3.00" rx="1.50" fill="#111" opacity="0.75" filter="url(#b1)"/></g>
<path d="M258.19 309.59C259.09 308.77 261.77 306.32 263.57 304.63C265.36 302.94 267.15 301.18 268.95 299.45C270.74 297.72 272.53 295.99 274.32 294.27C276.12 292.54 277.91 290.77 279.70 289.08C281.50 287.39 283.29 285.75 285.08 284.12C286.87 282.48 288.67 280.86 290.46 279.27C292.25 277.67 294.05 276.00 295.84 274.53C297.63 273.06 299.42 271.76 301.22 270.45C303.01 269.15 304.80 267.90 306.59 266.71C308.39 265.52 310.18 264.27 311.97 263.33C313.77 262.38 315.56 261.73 317.35 261.03C319.14 260.32 320.94 259.66 322.73 259.08C324.52 258.49 326.32 257.95 328.11 257.50C329.90 257.04 331.69 256.71 333.49 256.35C335.28 255.98 337.07 255.64 338.87 255.32C340.66 255.00 342.45 254.68 344.24 254.42C346.04 254.15 347.83 253.94 349.62 253.73C351.41 253.51 353.21 253.32 355.00 253.15C356.79 252.97 358.59 252.88 360.38 252.70C362.17 252.51 363.96 252.25 365.76 252.04C367.55 251.82 369.34 251.61 371.14 251.41C372.93 251.21 375.62 250.94 376.51 250.84" stroke="#4d5a7c" stroke-width="1.15" fill="none"/>
<circle cx="258.19" cy="309.59" r="2.0" fill="none" stroke="#4d5a7c" stroke-width="0.8"/><circle cx="263.57" cy="304.63" r="2.0" fill="none" stroke="#4d5a7c" stroke-width="0.8"/><circle cx="268.95" cy="299.45" r="2.0" fill="none" stroke="#4d5a7c" stroke-width="0.8"/><circle cx="274.32" cy="294.27" r="2.0" fill="none" stroke="#4d5a7c" stroke-width="0.8"/><circle cx="279.70" cy="289.08" r="2.0" fill="none" stroke="#4d5a7c" stroke-width="0.8"/><circle cx="285.08" cy="284.12" r="2.0" fill="none" stroke="#4d5a7c" stroke-width="0.8"/><circle cx="290.46" cy="279.27" r="2.0" fill="none" stroke="#4d5a7c" stroke-width="0.8"/><circle cx="295.84" cy="274.53" r="2.0" fill="none" stroke="#4d5a7c" stroke-width="0.8"/><circle cx="301.22" cy="270.45" r="2.0" fill="none" stroke="#4d5a7c" stroke-width="0.8"/><circle cx="306.59" cy="266.71" r="2.0" fill="none" stroke="#4d5a7c" stroke-width="0.8"/><circle cx="311.97" cy="263.33" r="2.0" fill="none" stroke="#4d5a7c" stroke-width="0.8"/><circle cx="317.35" cy="261.03" r="2.0" fill="none" stroke="#4d5a7c" stroke-width="0.8"/><circle cx="322.73" cy="259.08" r="2.0" fill="none" stroke="#4d5a7c" stroke-width="0.8"/><circle cx="328.11" cy="257.50" r="2.0" fill="none" stroke="#4d5a7c" stroke-width="0.8"/><circle cx="333.49" cy="256.35" r="2.0" fill="none" stroke="#4d5a7c" stroke-width="0.8"/><circle cx="338.87" cy="255.32" r="2.0" fill="none" stroke="#4d5a7c" stroke-width="0.8"/><circle cx="344.24" cy="254.42" r="2.0" fill="none" stroke="#4d5a7c" stroke-width="0.8"/><circle cx="349.62" cy="253.73" r="2.0" fill="none" stroke="#4d5a7c" stroke-width="0.8"/><circle cx="355.00" cy="253.15" r="2.0" fill="none" stroke="#4d5a7c" stroke-width="0.8"/><circle cx="360.38" cy="252.70" r="2.0" fill="none" stroke="#4d5a7c" stroke-width="0.8"/><circle cx="365.76" cy="252.04" r="2.0" fill="none" stroke="#4d5a7c" stroke-width="0.8"/><circle cx="371.14" cy="251.41" r="2.0" fill="none" stroke="#4d5a7c" stroke-width="0.8"/><circle cx="376.51" cy="250.84" r="2.0" fill="none" stroke="#4d5a7c" stroke-width="0.8"/>
<path d="M258.19 309.76C259.09 308.94 261.77 306.49 263.57 304.80C265.36 303.11 267.15 301.35 268.95 299.62C270.74 297.89 272.53 296.16 274.32 294.44C276.12 292.71 277.91 290.94 279.70 289.25C281.50 287.56 283.29 285.92 285.08 284.29C286.87 282.65 288.67 281.03 290.46 279.43C292.25 277.84 294.05 276.17 295.84 274.70C297.63 273.23 299.42 271.93 301.22 270.62C303.01 269.32 304.80 268.07 306.59 266.88C308.39 265.69 310.18 264.44 311.97 263.50C313.77 262.55 315.56 261.90 317.35 261.20C319.14 260.49 320.94 259.83 322.73 259.25C324.52 258.66 326.32 258.12 328.11 257.67C329.90 257.21 331.69 256.88 333.49 256.52C335.28 256.15 337.07 255.81 338.87 255.49C340.66 255.17 342.45 254.85 344.24 254.59C346.04 254.32 347.83 254.11 349.62 253.90C351.41 253.68 353.21 253.49 355.00 253.32C356.79 253.14 358.59 253.05 360.38 252.87C362.17 252.68 363.96 252.42 365.76 252.21C367.55 251.99 369.34 251.78 371.14 251.58C372.93 251.38 375.62 251.11 376.51 251.01" stroke="#9b8fd2" stroke-width="1.15" fill="none"/>
<circle cx="258.19" cy="309.76" r="2.0" fill="none" stroke="#9b8fd2" stroke-width="0.8"/><circle cx="263.57" cy="304.80" r="2.0" fill="none" stroke="#9b8fd2" stroke-width="0.8"/><circle cx="268.95" cy="299.62" r="2.0" fill="none" stroke="#9b8fd2" stroke-width="0.8"/><circle cx="274.32" cy="294.44" r="2.0" fill="none" stroke="#9b8fd2" stroke-width="0.8"/><circle cx="279.70" cy="289.25" r="2.0" fill="none" stroke="#9b8fd2" stroke-width="0.8"/><circle cx="285.08" cy="284.29" r="2.0" fill="none" stroke="#9b8fd2" stroke-width="0.8"/><circle cx="290.46" cy="279.43" r="2.0" fill="none" stroke="#9b8fd2" stroke-width="0.8"/><circle cx="295.84" cy="274.70" r="2.0" fill="none" stroke="#9b8fd2" stroke-width="0.8"/><circle cx="301.22" cy="270.62" r="2.0" fill="none" stroke="#9b8fd2" stroke-width="0.8"/><circle cx="306.59" cy="266.88" r="2.0" fill="none" stroke="#9b8fd2" stroke-width="0.8"/><circle cx="311.97" cy="263.50" r="2.0" fill="none" stroke="#9b8fd2" stroke-width="0.8"/><circle cx="317.35" cy="261.20" r="2.0" fill="none" stroke="#9b8fd2" stroke-width="0.8"/><circle cx="322.73" cy="259.25" r="2.0" fill="none" stroke="#9b8fd2" stroke-width="0.8"/><circle cx="328.11" cy="257.67" r="2.0" fill="none" stroke="#9b8fd2" stroke-width="0.8"/><circle cx="333.49" cy="256.52" r="2.0" fill="none" stroke="#9b8fd2" stroke-width="0.8"/><circle cx="338.87" cy="255.49" r="2.0" fill="none" stroke="#9b8fd2" stroke-width="0.8"/><circle cx="344.24" cy="254.59" r="2.0" fill="none" stroke="#9b8fd2" stroke-width="0.8"/><circle cx="349.62" cy="253.90" r="2.0" fill="none" stroke="#9b8fd2" stroke-width="0.8"/><circle cx="355.00" cy="253.32" r="2.0" fill="none" stroke="#9b8fd2" stroke-width="0.8"/><circle cx="360.38" cy="252.87" r="2.0" fill="none" stroke="#9b8fd2" stroke-width="0.8"/><circle cx="365.76" cy="252.21" r="2.0" fill="none" stroke="#9b8fd2" stroke-width="0.8"/><circle cx="371.14" cy="251.58" r="2.0" fill="none" stroke="#9b8fd2" stroke-width="0.8"/><circle cx="376.51" cy="251.01" r="2.0" fill="none" stroke="#9b8fd2" stroke-width="0.8"/>
<path d="M258.19 310.27C259.09 309.45 261.77 307.00 263.57 305.31C265.36 303.62 267.15 301.86 268.95 300.13C270.74 298.40 272.53 296.67 274.32 294.94C276.12 293.22 277.91 291.45 279.70 289.76C281.50 288.07 283.29 286.43 285.08 284.80C286.87 283.16 288.67 281.54 290.46 279.94C292.25 278.35 294.05 276.68 295.84 275.21C297.63 273.74 299.42 272.44 301.22 271.13C303.01 269.83 304.80 268.58 306.59 267.39C308.39 266.20 310.18 264.95 311.97 264.01C313.77 263.06 315.56 262.41 317.35 261.70C319.14 261.00 320.94 260.34 322.73 259.76C324.52 259.17 326.32 258.63 328.11 258.18C329.90 257.72 331.69 257.39 333.49 257.03C335.28 256.66 337.07 256.32 338.87 256.00C340.66 255.68 342.45 255.36 344.24 255.10C346.04 254.83 347.83 254.62 349.62 254.41C351.41 254.19 353.21 254.00 355.00 253.83C356.79 253.65 358.59 253.56 360.38 253.37C362.17 253.19 363.96 252.93 365.76 252.72C367.55 252.50 369.34 252.29 371.14 252.09C372.93 251.89 375.62 251.62 376.51 251.52" stroke="#6db6ea" stroke-width="1.15" fill="none"/>
<path d="M258.19 308.07l2.2 2.2l-2.2 2.2l-2.2 -2.2Z" fill="none" stroke="#6db6ea" stroke-width="0.8"/><path d="M263.57 303.11l2.2 2.2l-2.2 2.2l-2.2 -2.2Z" fill="none" stroke="#6db6ea" stroke-width="0.8"/><path d="M268.95 297.93l2.2 2.2l-2.2 2.2l-2.2 -2.2Z" fill="none" stroke="#6db6ea" stroke-width="0.8"/><path d="M274.32 292.74l2.2 2.2l-2.2 2.2l-2.2 -2.2Z" fill="none" stroke="#6db6ea" stroke-width="0.8"/><path d="M279.70 287.56l2.2 2.2l-2.2 2.2l-2.2 -2.2Z" fill="none" stroke="#6db6ea" stroke-width="0.8"/><path d="M285.08 282.60l2.2 2.2l-2.2 2.2l-2.2 -2.2Z" fill="none" stroke="#6db6ea" stroke-width="0.8"/><path d="M290.46 277.74l2.2 2.2l-2.2 2.2l-2.2 -2.2Z" fill="none" stroke="#6db6ea" stroke-width="0.8"/><path d="M295.84 273.01l2.2 2.2l-2.2 2.2l-2.2 -2.2Z" fill="none" stroke="#6db6ea" stroke-width="0.8"/><path d="M301.22 268.93l2.2 2.2l-2.2 2.2l-2.2 -2.2Z" fill="none" stroke="#6db6ea" stroke-width="0.8"/><path d="M306.59 265.19l2.2 2.2l-2.2 2.2l-2.2 -2.2Z" fill="none" stroke="#6db6ea" stroke-width="0.8"/><path d="M311.97 261.81l2.2 2.2l-2.2 2.2l-2.2 -2.2Z" fill="none" stroke="#6db6ea" stroke-width="0.8"/><path d="M317.35 259.50l2.2 2.2l-2.2 2.2l-2.2 -2.2Z" fill="none" stroke="#6db6ea" stroke-width="0.8"/><path d="M322.73 257.56l2.2 2.2l-2.2 2.2l-2.2 -2.2Z" fill="none" stroke="#6db6ea" stroke-width="0.8"/><path d="M328.11 255.98l2.2 2.2l-2.2 2.2l-2.2 -2.2Z" fill="none" stroke="#6db6ea" stroke-width="0.8"/><path d="M333.49 254.83l2.2 2.2l-2.2 2.2l-2.2 -2.2Z" fill="none" stroke="#6db6ea" stroke-width="0.8"/><path d="M338.87 253.80l2.2 2.2l-2.2 2.2l-2.2 -2.2Z" fill="none" stroke="#6db6ea" stroke-width="0.8"/><path d="M344.24 252.90l2.2 2.2l-2.2 2.2l-2.2 -2.2Z" fill="none" stroke="#6db6ea" stroke-width="0.8"/><path d="M349.62 252.21l2.2 2.2l-2.2 2.2l-2.2 -2.2Z" fill="none" stroke="#6db6ea" stroke-width="0.8"/><path d="M355.00 251.63l2.2 2.2l-2.2 2.2l-2.2 -2.2Z" fill="none" stroke="#6db6ea" stroke-width="0.8"/><path d="M360.38 251.17l2.2 2.2l-2.2 2.2l-2.2 -2.2Z" fill="none" stroke="#6db6ea" stroke-width="0.8"/><path d="M365.76 250.52l2.2 2.2l-2.2 2.2l-2.2 -2.2Z" fill="none" stroke="#6db6ea" stroke-width="0.8"/><path d="M371.14 249.89l2.2 2.2l-2.2 2.2l-2.2 -2.2Z" fill="none" stroke="#6db6ea" stroke-width="0.8"/><path d="M376.51 249.32l2.2 2.2l-2.2 2.2l-2.2 -2.2Z" fill="none" stroke="#6db6ea" stroke-width="0.8"/>
<path d="M258.19 309.93C259.09 309.11 261.77 306.66 263.57 304.97C265.36 303.28 267.15 301.52 268.95 299.79C270.74 298.06 272.53 296.33 274.32 294.61C276.12 292.88 277.91 291.11 279.70 289.42C281.50 287.73 283.29 286.09 285.08 284.46C286.87 282.82 288.67 281.20 290.46 279.60C292.25 278.01 294.05 276.34 295.84 274.87C297.63 273.40 299.42 272.10 301.22 270.79C303.01 269.49 304.80 268.24 306.59 267.05C308.39 265.86 310.18 264.61 311.97 263.67C313.77 262.72 315.56 262.07 317.35 261.37C319.14 260.66 320.94 260.00 322.73 259.42C324.52 258.83 326.32 258.29 328.11 257.84C329.90 257.38 331.69 257.05 333.49 256.69C335.28 256.32 337.07 255.98 338.87 255.66C340.66 255.34 342.45 255.02 344.24 254.76C346.04 254.49 347.83 254.28 349.62 254.07C351.41 253.85 353.21 253.66 355.00 253.49C356.79 253.31 358.59 253.22 360.38 253.04C362.17 252.85 363.96 252.59 365.76 252.38C367.55 252.16 369.34 251.95 371.14 251.75C372.93 251.55 375.62 251.28 376.51 251.18" stroke="#2c4f9c" stroke-width="1.15" fill="none"/>
<rect x="256.19" y="307.93" width="4.0" height="4.0" fill="none" stroke="#2c4f9c" stroke-width="0.8"/><rect x="261.57" y="302.97" width="4.0" height="4.0" fill="none" stroke="#2c4f9c" stroke-width="0.8"/><rect x="266.95" y="297.79" width="4.0" height="4.0" fill="none" stroke="#2c4f9c" stroke-width="0.8"/><rect x="272.32" y="292.61" width="4.0" height="4.0" fill="none" stroke="#2c4f9c" stroke-width="0.8"/><rect x="277.70" y="287.42" width="4.0" height="4.0" fill="none" stroke="#2c4f9c" stroke-width="0.8"/><rect x="283.08" y="282.46" width="4.0" height="4.0" fill="none" stroke="#2c4f9c" stroke-width="0.8"/><rect x="288.46" y="277.60" width="4.0" height="4.0" fill="none" stroke="#2c4f9c" stroke-width="0.8"/><rect x="293.84" y="272.87" width="4.0" height="4.0" fill="none" stroke="#2c4f9c" stroke-width="0.8"/><rect x="299.22" y="268.79" width="4.0" height="4.0" fill="none" stroke="#2c4f9c" stroke-width="0.8"/><circle cx="306.59" cy="267.05" r="2.0" fill="none" stroke="#2c4f9c" stroke-width="0.8"/><circle cx="311.97" cy="263.67" r="2.0" fill="none" stroke="#2c4f9c" stroke-width="0.8"/><circle cx="317.35" cy="261.37" r="2.0" fill="none" stroke="#2c4f9c" stroke-width="0.8"/><circle cx="322.73" cy="259.42" r="2.0" fill="none" stroke="#2c4f9c" stroke-width="0.8"/><circle cx="328.11" cy="257.84" r="2.0" fill="none" stroke="#2c4f9c" stroke-width="0.8"/><circle cx="333.49" cy="256.69" r="2.0" fill="none" stroke="#2c4f9c" stroke-width="0.8"/><circle cx="338.87" cy="255.66" r="2.0" fill="none" stroke="#2c4f9c" stroke-width="0.8"/><circle cx="344.24" cy="254.76" r="2.0" fill="none" stroke="#2c4f9c" stroke-width="0.8"/><circle cx="349.62" cy="254.07" r="2.0" fill="none" stroke="#2c4f9c" stroke-width="0.8"/><circle cx="355.00" cy="253.49" r="2.0" fill="none" stroke="#2c4f9c" stroke-width="0.8"/><circle cx="360.38" cy="253.04" r="2.0" fill="none" stroke="#2c4f9c" stroke-width="0.8"/><circle cx="365.76" cy="252.38" r="2.0" fill="none" stroke="#2c4f9c" stroke-width="0.8"/><circle cx="371.14" cy="251.75" r="2.0" fill="none" stroke="#2c4f9c" stroke-width="0.8"/><circle cx="376.51" cy="251.18" r="2.0" fill="none" stroke="#2c4f9c" stroke-width="0.8"/>
<path d="M258.19 309.93C259.09 309.11 261.77 306.66 263.57 304.97C265.36 303.28 267.15 301.50 268.95 299.79C270.74 298.08 272.53 296.39 274.32 294.72C276.12 293.04 277.91 291.41 279.70 289.76C281.50 288.10 283.29 286.41 285.08 284.80C286.87 283.18 288.67 281.59 290.46 280.05C292.25 278.51 294.05 276.94 295.84 275.54C297.63 274.15 299.42 272.92 301.22 271.69C303.01 270.46 304.80 269.28 306.59 268.17C308.39 267.06 310.18 265.89 311.97 265.02C313.77 264.14 315.56 263.57 317.35 262.94C319.14 262.31 320.94 261.73 322.73 261.22C324.52 260.70 326.32 260.28 328.11 259.86C329.90 259.45 331.69 259.07 333.49 258.72C335.28 258.38 337.07 258.06 338.87 257.80C340.66 257.53 342.45 257.34 344.24 257.12C346.04 256.89 347.83 256.65 349.62 256.44C351.41 256.23 353.21 256.03 355.00 255.86C356.79 255.69 358.59 255.60 360.38 255.41C362.17 255.23 363.96 254.96 365.76 254.75C367.55 254.55 369.34 254.34 371.14 254.17C372.93 254.00 375.62 253.79 376.51 253.72" stroke="#5aa92e" stroke-width="1.15" fill="none"/>
<rect x="256.19" y="307.93" width="4" height="4" fill="#5aa92e"/><rect x="261.57" y="302.97" width="4" height="4" fill="#5aa92e"/><rect x="266.95" y="297.79" width="4" height="4" fill="#5aa92e"/><rect x="272.32" y="292.72" width="4" height="4" fill="#5aa92e"/><rect x="277.70" y="287.76" width="4" height="4" fill="#5aa92e"/><rect x="283.08" y="282.80" width="4" height="4" fill="#5aa92e"/><rect x="288.46" y="278.05" width="4" height="4" fill="#5aa92e"/><rect x="293.84" y="273.54" width="4" height="4" fill="#5aa92e"/><rect x="299.22" y="269.69" width="4" height="4" fill="#5aa92e"/><circle cx="306.59" cy="268.17" r="2.0" fill="#5aa92e"/><circle cx="311.97" cy="265.02" r="2.0" fill="#5aa92e"/><circle cx="317.35" cy="262.94" r="2.0" fill="#5aa92e"/><circle cx="322.73" cy="261.22" r="2.0" fill="#5aa92e"/><circle cx="328.11" cy="259.86" r="2.0" fill="#5aa92e"/><circle cx="333.49" cy="258.72" r="2.0" fill="#5aa92e"/><circle cx="338.87" cy="257.80" r="2.0" fill="#5aa92e"/><circle cx="344.24" cy="257.12" r="2.0" fill="#5aa92e"/><circle cx="349.62" cy="256.44" r="2.0" fill="#5aa92e"/><circle cx="355.00" cy="255.86" r="2.0" fill="#5aa92e"/><circle cx="360.38" cy="255.41" r="2.0" fill="#5aa92e"/><circle cx="365.76" cy="254.75" r="2.0" fill="#5aa92e"/><circle cx="371.14" cy="254.17" r="2.0" fill="#5aa92e"/><circle cx="376.51" cy="253.72" r="2.0" fill="#5aa92e"/>
<path d="M258.19 310.50C259.09 309.86 261.77 307.90 263.57 306.66C265.36 305.42 267.15 304.28 268.95 303.06C270.74 301.84 272.53 300.60 274.32 299.34C276.12 298.08 277.91 296.78 279.70 295.51C281.50 294.23 283.29 292.95 285.08 291.67C286.87 290.40 288.67 289.12 290.46 287.84C292.25 286.56 294.05 285.21 295.84 284.01C297.63 282.81 299.42 281.69 301.22 280.61C303.01 279.54 304.80 278.51 306.59 277.55C308.39 276.59 310.18 275.64 311.97 274.84C313.77 274.05 315.56 273.41 317.35 272.78C319.14 272.15 320.94 271.57 322.73 271.06C324.52 270.55 326.32 270.09 328.11 269.71C329.90 269.33 331.69 269.07 333.49 268.78C335.28 268.49 337.07 268.23 338.87 267.98C340.66 267.73 342.45 267.49 344.24 267.30C346.04 267.11 347.83 266.99 349.62 266.84C351.41 266.69 353.21 266.54 355.00 266.39C356.79 266.24 358.59 266.07 360.38 265.94C362.17 265.80 363.96 265.70 365.76 265.59C367.55 265.48 369.34 265.36 371.14 265.25C372.93 265.14 375.62 264.97 376.51 264.91" stroke="#e8931c" stroke-width="1.15" fill="none"/>
<path d="M256.69 309.00l3 3M256.69 312.00l3 -3" stroke="#e8931c" stroke-width="0.7" fill="none"/><path d="M262.07 305.16l3 3M262.07 308.16l3 -3" stroke="#e8931c" stroke-width="0.7" fill="none"/><path d="M267.45 301.56l3 3M267.45 304.56l3 -3" stroke="#e8931c" stroke-width="0.7" fill="none"/><path d="M272.82 297.84l3 3M272.82 300.84l3 -3" stroke="#e8931c" stroke-width="0.7" fill="none"/><path d="M278.20 294.01l3 3M278.20 297.01l3 -3" stroke="#e8931c" stroke-width="0.7" fill="none"/><path d="M283.58 290.17l3 3M283.58 293.17l3 -3" stroke="#e8931c" stroke-width="0.7" fill="none"/><path d="M288.96 286.34l3 3M288.96 289.34l3 -3" stroke="#e8931c" stroke-width="0.7" fill="none"/><path d="M294.34 282.51l3 3M294.34 285.51l3 -3" stroke="#e8931c" stroke-width="0.7" fill="none"/><path d="M299.72 279.11l3 3M299.72 282.11l3 -3" stroke="#e8931c" stroke-width="0.7" fill="none"/><path d="M305.09 276.05l3 3M305.09 279.05l3 -3" stroke="#e8931c" stroke-width="0.7" fill="none"/><path d="M310.47 273.34l3 3M310.47 276.34l3 -3" stroke="#e8931c" stroke-width="0.7" fill="none"/><path d="M315.85 271.28l3 3M315.85 274.28l3 -3" stroke="#e8931c" stroke-width="0.7" fill="none"/><path d="M321.23 269.56l3 3M321.23 272.56l3 -3" stroke="#e8931c" stroke-width="0.7" fill="none"/><path d="M326.61 268.21l3 3M326.61 271.21l3 -3" stroke="#e8931c" stroke-width="0.7" fill="none"/><path d="M331.99 267.28l3 3M331.99 270.28l3 -3" stroke="#e8931c" stroke-width="0.7" fill="none"/><path d="M337.37 266.48l3 3M337.37 269.48l3 -3" stroke="#e8931c" stroke-width="0.7" fill="none"/><path d="M342.74 265.80l3 3M342.74 268.80l3 -3" stroke="#e8931c" stroke-width="0.7" fill="none"/><path d="M348.12 265.34l3 3M348.12 268.34l3 -3" stroke="#e8931c" stroke-width="0.7" fill="none"/><path d="M353.50 264.89l3 3M353.50 267.89l3 -3" stroke="#e8931c" stroke-width="0.7" fill="none"/><path d="M358.88 264.44l3 3M358.88 267.44l3 -3" stroke="#e8931c" stroke-width="0.7" fill="none"/><path d="M364.26 264.09l3 3M364.26 267.09l3 -3" stroke="#e8931c" stroke-width="0.7" fill="none"/><path d="M369.64 263.75l3 3M369.64 266.75l3 -3" stroke="#e8931c" stroke-width="0.7" fill="none"/><path d="M375.01 263.41l3 3M375.01 266.41l3 -3" stroke="#e8931c" stroke-width="0.7" fill="none"/>
<path d="M258.19 311.40C259.09 310.73 261.77 308.55 263.57 307.34C265.36 306.14 267.15 305.20 268.95 304.18C270.74 303.17 272.53 302.19 274.32 301.25C276.12 300.31 277.91 299.41 279.70 298.54C281.50 297.68 283.29 296.85 285.08 296.06C286.87 295.27 288.67 294.51 290.46 293.79C292.25 293.08 294.05 292.37 295.84 291.76C297.63 291.16 299.42 290.68 301.22 290.17C303.01 289.66 304.80 289.17 306.59 288.70C308.39 288.23 310.18 287.76 311.97 287.35C313.77 286.93 315.56 286.59 317.35 286.21C319.14 285.83 320.94 285.46 322.73 285.08C324.52 284.71 326.32 284.33 328.11 283.96C329.90 283.58 331.69 283.19 333.49 282.83C335.28 282.47 337.07 282.12 338.87 281.80C340.66 281.48 342.45 281.20 344.24 280.90C346.04 280.60 347.83 280.28 349.62 280.00C351.41 279.71 353.21 279.44 355.00 279.19C356.79 278.94 358.59 278.71 360.38 278.52C362.17 278.32 363.96 278.20 365.76 278.05C367.55 277.89 369.34 277.75 371.14 277.60C372.93 277.45 375.62 277.22 376.51 277.15" stroke="#e0208c" stroke-width="1.15" fill="none"/>
<path d="M258.19 309.10l2.2 3.8h-4.4Z" fill="none" stroke="#e0208c" stroke-width="0.8"/><path d="M263.57 305.04l2.2 3.8h-4.4Z" fill="none" stroke="#e0208c" stroke-width="0.8"/><path d="M268.95 301.88l2.2 3.8h-4.4Z" fill="none" stroke="#e0208c" stroke-width="0.8"/><path d="M274.32 298.95l2.2 3.8h-4.4Z" fill="none" stroke="#e0208c" stroke-width="0.8"/><path d="M279.70 296.24l2.2 3.8h-4.4Z" fill="none" stroke="#e0208c" stroke-width="0.8"/><path d="M285.08 293.76l2.2 3.8h-4.4Z" fill="none" stroke="#e0208c" stroke-width="0.8"/><path d="M290.46 291.49l2.2 3.8h-4.4Z" fill="none" stroke="#e0208c" stroke-width="0.8"/><path d="M295.84 289.46l2.2 3.8h-4.4Z" fill="none" stroke="#e0208c" stroke-width="0.8"/><path d="M301.22 287.87l2.2 3.8h-4.4Z" fill="none" stroke="#e0208c" stroke-width="0.8"/><path d="M306.59 286.40l2.2 3.8h-4.4Z" fill="none" stroke="#e0208c" stroke-width="0.8"/><path d="M311.97 285.05l2.2 3.8h-4.4Z" fill="none" stroke="#e0208c" stroke-width="0.8"/><path d="M317.35 283.91l2.2 3.8h-4.4Z" fill="none" stroke="#e0208c" stroke-width="0.8"/><path d="M322.73 282.78l2.2 3.8h-4.4Z" fill="none" stroke="#e0208c" stroke-width="0.8"/><path d="M328.11 281.66l2.2 3.8h-4.4Z" fill="none" stroke="#e0208c" stroke-width="0.8"/><path d="M333.49 280.53l2.2 3.8h-4.4Z" fill="none" stroke="#e0208c" stroke-width="0.8"/><path d="M338.87 279.50l2.2 3.8h-4.4Z" fill="none" stroke="#e0208c" stroke-width="0.8"/><path d="M344.24 278.60l2.2 3.8h-4.4Z" fill="none" stroke="#e0208c" stroke-width="0.8"/><path d="M349.62 277.70l2.2 3.8h-4.4Z" fill="none" stroke="#e0208c" stroke-width="0.8"/><path d="M355.00 276.89l2.2 3.8h-4.4Z" fill="none" stroke="#e0208c" stroke-width="0.8"/><path d="M360.38 276.22l2.2 3.8h-4.4Z" fill="none" stroke="#e0208c" stroke-width="0.8"/><path d="M365.76 275.75l2.2 3.8h-4.4Z" fill="none" stroke="#e0208c" stroke-width="0.8"/><path d="M371.14 275.30l2.2 3.8h-4.4Z" fill="none" stroke="#e0208c" stroke-width="0.8"/><path d="M376.51 274.85l2.2 3.8h-4.4Z" fill="none" stroke="#e0208c" stroke-width="0.8"/>
<path d="M258.19 311.17C259.09 310.76 261.77 309.44 263.57 308.69C265.36 307.94 267.15 307.30 268.95 306.66C270.74 306.02 272.53 305.42 274.32 304.85C276.12 304.29 277.91 303.76 279.70 303.27C281.50 302.79 283.29 302.35 285.08 301.92C286.87 301.48 288.67 301.07 290.46 300.67C292.25 300.28 294.05 299.92 295.84 299.55C297.63 299.17 299.42 298.79 301.22 298.42C303.01 298.04 304.80 297.67 306.59 297.29C308.39 296.92 310.18 296.50 311.97 296.16C313.77 295.82 315.56 295.55 317.35 295.25C319.14 294.95 320.94 294.65 322.73 294.35C324.52 294.05 326.32 293.75 328.11 293.45C329.90 293.15 331.69 292.83 333.49 292.55C335.28 292.26 337.07 291.99 338.87 291.75C340.66 291.50 342.45 291.29 344.24 291.07C346.04 290.84 347.83 290.62 349.62 290.39C351.41 290.17 353.21 289.94 355.00 289.72C356.79 289.49 358.59 289.23 360.38 289.04C362.17 288.85 363.96 288.72 365.76 288.57C367.55 288.42 369.34 288.27 371.14 288.12C372.93 287.97 375.62 287.74 376.51 287.67" stroke="#b0122c" stroke-width="1.15" fill="none"/>
<path d="M256.69 309.67l3 3M256.69 312.67l3 -3M258.19 309.37v3.6" stroke="#b0122c" stroke-width="0.7" fill="none"/><path d="M262.07 307.19l3 3M262.07 310.19l3 -3M263.57 306.89v3.6" stroke="#b0122c" stroke-width="0.7" fill="none"/><path d="M267.45 305.16l3 3M267.45 308.16l3 -3M268.95 304.86v3.6" stroke="#b0122c" stroke-width="0.7" fill="none"/><path d="M272.82 303.35l3 3M272.82 306.35l3 -3M274.32 303.05v3.6" stroke="#b0122c" stroke-width="0.7" fill="none"/><path d="M278.20 301.77l3 3M278.20 304.77l3 -3M279.70 301.47v3.6" stroke="#b0122c" stroke-width="0.7" fill="none"/><path d="M283.58 300.42l3 3M283.58 303.42l3 -3M285.08 300.12v3.6" stroke="#b0122c" stroke-width="0.7" fill="none"/><path d="M288.96 299.17l3 3M288.96 302.17l3 -3M290.46 298.87v3.6" stroke="#b0122c" stroke-width="0.7" fill="none"/><path d="M294.34 298.05l3 3M294.34 301.05l3 -3M295.84 297.75v3.6" stroke="#b0122c" stroke-width="0.7" fill="none"/><path d="M299.72 296.92l3 3M299.72 299.92l3 -3M301.22 296.62v3.6" stroke="#b0122c" stroke-width="0.7" fill="none"/><path d="M305.09 295.79l3 3M305.09 298.79l3 -3M306.59 295.49v3.6" stroke="#b0122c" stroke-width="0.7" fill="none"/><path d="M310.47 294.66l3 3M310.47 297.66l3 -3M311.97 294.36v3.6" stroke="#b0122c" stroke-width="0.7" fill="none"/><path d="M315.85 293.75l3 3M315.85 296.75l3 -3M317.35 293.45v3.6" stroke="#b0122c" stroke-width="0.7" fill="none"/><path d="M321.23 292.85l3 3M321.23 295.85l3 -3M322.73 292.55v3.6" stroke="#b0122c" stroke-width="0.7" fill="none"/><path d="M326.61 291.95l3 3M326.61 294.95l3 -3M328.11 291.65v3.6" stroke="#b0122c" stroke-width="0.7" fill="none"/><path d="M331.99 291.05l3 3M331.99 294.05l3 -3M333.49 290.75v3.6" stroke="#b0122c" stroke-width="0.7" fill="none"/><path d="M337.37 290.25l3 3M337.37 293.25l3 -3M338.87 289.95v3.6" stroke="#b0122c" stroke-width="0.7" fill="none"/><path d="M342.74 289.57l3 3M342.74 292.57l3 -3M344.24 289.27v3.6" stroke="#b0122c" stroke-width="0.7" fill="none"/><path d="M348.12 288.89l3 3M348.12 291.89l3 -3M349.62 288.59v3.6" stroke="#b0122c" stroke-width="0.7" fill="none"/><path d="M353.50 288.22l3 3M353.50 291.22l3 -3M355.00 287.92v3.6" stroke="#b0122c" stroke-width="0.7" fill="none"/><path d="M358.88 287.54l3 3M358.88 290.54l3 -3M360.38 287.24v3.6" stroke="#b0122c" stroke-width="0.7" fill="none"/><path d="M364.26 287.07l3 3M364.26 290.07l3 -3M365.76 286.77v3.6" stroke="#b0122c" stroke-width="0.7" fill="none"/><path d="M369.64 286.62l3 3M369.64 289.62l3 -3M371.14 286.32v3.6" stroke="#b0122c" stroke-width="0.7" fill="none"/><path d="M375.01 286.17l3 3M375.01 289.17l3 -3M376.51 285.87v3.6" stroke="#b0122c" stroke-width="0.7" fill="none"/>
<path d="M255.5 233.82V320.9H387.6" stroke="#111" stroke-width="1.25" fill="none"/>
<path d="M252.7 320.90H255.5" stroke="#111" stroke-width="1.0"/>
<text x="249.80" y="323.70" font-size="8.0" text-anchor="end" fill="#111" >0.00</text>
<path d="M252.7 303.92H255.5" stroke="#111" stroke-width="1.0"/>
<text x="249.80" y="306.72" font-size="8.0" text-anchor="end" fill="#111" >0.05</text>
<path d="M252.7 286.95H255.5" stroke="#111" stroke-width="1.0"/>
<text x="249.80" y="289.75" font-size="8.0" text-anchor="end" fill="#111" >0.10</text>
<path d="M252.7 269.97H255.5" stroke="#111" stroke-width="1.0"/>
<text x="249.80" y="272.77" font-size="8.0" text-anchor="end" fill="#111" >0.15</text>
<path d="M252.7 253.00H255.5" stroke="#111" stroke-width="1.0"/>
<text x="249.80" y="255.80" font-size="8.0" text-anchor="end" fill="#111" >0.20</text>
<path d="M252.7 236.02H255.5" stroke="#111" stroke-width="1.0"/>
<text x="249.80" y="238.82" font-size="8.0" text-anchor="end" fill="#111" >0.25</text>
<path d="M255.40 320.9v2.8" stroke="#111" stroke-width="1.0"/>
<text x="255.40" y="333.30" font-size="7.9" text-anchor="middle" fill="#111" >0</text>
<path d="M286.50 320.9v2.8" stroke="#111" stroke-width="1.0"/>
<text x="286.50" y="333.30" font-size="7.9" text-anchor="middle" fill="#111" >1000</text>
<path d="M319.40 320.9v2.8" stroke="#111" stroke-width="1.0"/>
<text x="319.40" y="333.30" font-size="7.9" text-anchor="middle" fill="#111" >2000</text>
<path d="M351.90 320.9v2.8" stroke="#111" stroke-width="1.0"/>
<text x="351.90" y="333.30" font-size="7.9" text-anchor="middle" fill="#111" >3000</text>
<path d="M384.80 320.9v2.8" stroke="#111" stroke-width="1.0"/>
<text x="384.80" y="333.30" font-size="7.9" text-anchor="middle" fill="#111" >4000</text>
<text x="322.00" y="346.90" font-size="8.6" text-anchor="middle" fill="#111" textLength="37.20" lengthAdjust="spacingAndGlyphs" >Times (sec)</text>
<text x="216.90" y="276.20" font-size="8.6" text-anchor="middle" fill="#111" transform="rotate(-90 216.90 276.20)" textLength="75.60" lengthAdjust="spacingAndGlyphs" >Relative OGDH activity</text>
<text x="228.90" y="276.20" font-size="8.6" text-anchor="middle" fill="#111" transform="rotate(-90 228.90 276.20)" textLength="43.30" lengthAdjust="spacingAndGlyphs" >(OD 450nm)</text>
<text x="262.3" y="246.6" font-size="7.3" fill="#111"><tspan textLength="38.3" lengthAdjust="spacingAndGlyphs">BM Ter-119</tspan><tspan dy="-2.8" font-size="4.8">+</tspan></text>
<path d="M255.50 432.47C256.47 431.64 259.39 429.14 261.33 427.48C263.28 425.81 265.22 424.19 267.16 422.48C269.11 420.77 271.05 418.97 273.00 417.22C274.94 415.47 276.88 413.71 278.83 411.96C280.77 410.22 282.72 408.48 284.66 406.74C286.60 405.01 288.55 403.27 290.49 401.55C292.44 399.83 294.38 398.06 296.32 396.43C298.27 394.79 300.21 393.18 302.16 391.72C304.10 390.26 306.04 388.94 307.99 387.66C309.93 386.38 311.88 385.19 313.82 384.03C315.76 382.86 317.71 381.70 319.65 380.65C321.60 379.60 323.54 378.68 325.48 377.75C327.43 376.82 329.37 375.93 331.32 375.08C333.26 374.23 335.20 373.40 337.15 372.63C339.09 371.87 341.04 371.18 342.98 370.50C344.92 369.82 346.87 369.19 348.81 368.56C350.76 367.94 352.70 367.34 354.64 366.75C356.59 366.17 358.53 365.63 360.48 365.07C362.42 364.50 364.36 363.97 366.31 363.38C368.25 362.79 371.17 361.83 372.14 361.52" stroke="#6db6ea" stroke-width="1.15" fill="none"/>
<path d="M255.50 430.27l2.2 2.2l-2.2 2.2l-2.2 -2.2Z" fill="none" stroke="#6db6ea" stroke-width="0.8"/><path d="M261.33 425.28l2.2 2.2l-2.2 2.2l-2.2 -2.2Z" fill="none" stroke="#6db6ea" stroke-width="0.8"/><path d="M267.16 420.28l2.2 2.2l-2.2 2.2l-2.2 -2.2Z" fill="none" stroke="#6db6ea" stroke-width="0.8"/><path d="M273.00 415.02l2.2 2.2l-2.2 2.2l-2.2 -2.2Z" fill="none" stroke="#6db6ea" stroke-width="0.8"/><path d="M278.83 409.76l2.2 2.2l-2.2 2.2l-2.2 -2.2Z" fill="none" stroke="#6db6ea" stroke-width="0.8"/><path d="M284.66 404.54l2.2 2.2l-2.2 2.2l-2.2 -2.2Z" fill="none" stroke="#6db6ea" stroke-width="0.8"/><path d="M290.49 399.35l2.2 2.2l-2.2 2.2l-2.2 -2.2Z" fill="none" stroke="#6db6ea" stroke-width="0.8"/><path d="M296.32 394.23l2.2 2.2l-2.2 2.2l-2.2 -2.2Z" fill="none" stroke="#6db6ea" stroke-width="0.8"/><path d="M302.16 389.52l2.2 2.2l-2.2 2.2l-2.2 -2.2Z" fill="none" stroke="#6db6ea" stroke-width="0.8"/><path d="M307.99 385.46l2.2 2.2l-2.2 2.2l-2.2 -2.2Z" fill="none" stroke="#6db6ea" stroke-width="0.8"/><path d="M313.82 381.83l2.2 2.2l-2.2 2.2l-2.2 -2.2Z" fill="none" stroke="#6db6ea" stroke-width="0.8"/><path d="M319.65 378.45l2.2 2.2l-2.2 2.2l-2.2 -2.2Z" fill="none" stroke="#6db6ea" stroke-width="0.8"/><path d="M325.48 375.55l2.2 2.2l-2.2 2.2l-2.2 -2.2Z" fill="none" stroke="#6db6ea" stroke-width="0.8"/><path d="M331.32 372.88l2.2 2.2l-2.2 2.2l-2.2 -2.2Z" fill="none" stroke="#6db6ea" stroke-width="0.8"/><path d="M337.15 370.43l2.2 2.2l-2.2 2.2l-2.2 -2.2Z" fill="none" stroke="#6db6ea" stroke-width="0.8"/><path d="M342.98 368.30l2.2 2.2l-2.2 2.2l-2.2 -2.2Z" fill="none" stroke="#6db6ea" stroke-width="0.8"/><path d="M348.81 366.36l2.2 2.2l-2.2 2.2l-2.2 -2.2Z" fill="none" stroke="#6db6ea" stroke-width="0.8"/><path d="M354.64 364.55l2.2 2.2l-2.2 2.2l-2.2 -2.2Z" fill="none" stroke="#6db6ea" stroke-width="0.8"/><path d="M360.48 362.87l2.2 2.2l-2.2 2.2l-2.2 -2.2Z" fill="none" stroke="#6db6ea" stroke-width="0.8"/><path d="M366.31 361.18l2.2 2.2l-2.2 2.2l-2.2 -2.2Z" fill="none" stroke="#6db6ea" stroke-width="0.8"/><path d="M372.14 359.32l2.2 2.2l-2.2 2.2l-2.2 -2.2Z" fill="none" stroke="#6db6ea" stroke-width="0.8"/>
<path d="M255.50 430.99C256.47 430.16 259.39 427.66 261.33 425.99C263.28 424.33 265.22 422.69 267.16 421.00C269.11 419.30 271.05 417.55 273.00 415.83C274.94 414.11 276.88 412.38 278.83 410.68C280.77 408.98 282.72 407.30 284.66 405.63C286.60 403.97 288.55 402.32 290.49 400.68C292.44 399.05 294.38 397.38 296.32 395.82C298.27 394.25 300.21 392.69 302.16 391.29C304.10 389.88 306.04 388.62 307.99 387.41C309.93 386.19 311.88 385.07 313.82 384.00C315.76 382.93 317.71 381.93 319.65 380.98C321.60 380.03 323.54 379.14 325.48 378.28C327.43 377.41 329.37 376.58 331.32 375.79C333.26 374.99 335.20 374.22 337.15 373.52C339.09 372.81 341.04 372.18 342.98 371.56C344.92 370.94 346.87 370.36 348.81 369.80C350.76 369.24 352.70 368.70 354.64 368.20C356.59 367.70 358.53 367.23 360.48 366.78C362.42 366.33 364.36 365.97 366.31 365.53C368.25 365.08 371.17 364.35 372.14 364.11" stroke="#5aa92e" stroke-width="1.15" fill="none"/>
<path d="M254.00 429.49l3 3M254.00 432.49l3 -3" stroke="#5aa92e" stroke-width="0.7" fill="none"/><path d="M259.83 424.49l3 3M259.83 427.49l3 -3" stroke="#5aa92e" stroke-width="0.7" fill="none"/><path d="M265.66 419.50l3 3M265.66 422.50l3 -3" stroke="#5aa92e" stroke-width="0.7" fill="none"/><path d="M271.50 414.33l3 3M271.50 417.33l3 -3" stroke="#5aa92e" stroke-width="0.7" fill="none"/><path d="M277.33 409.18l3 3M277.33 412.18l3 -3" stroke="#5aa92e" stroke-width="0.7" fill="none"/><path d="M283.16 404.13l3 3M283.16 407.13l3 -3" stroke="#5aa92e" stroke-width="0.7" fill="none"/><path d="M288.99 399.18l3 3M288.99 402.18l3 -3" stroke="#5aa92e" stroke-width="0.7" fill="none"/><path d="M294.82 394.32l3 3M294.82 397.32l3 -3" stroke="#5aa92e" stroke-width="0.7" fill="none"/><path d="M300.66 389.79l3 3M300.66 392.79l3 -3" stroke="#5aa92e" stroke-width="0.7" fill="none"/><path d="M306.49 385.91l3 3M306.49 388.91l3 -3" stroke="#5aa92e" stroke-width="0.7" fill="none"/><path d="M312.32 382.50l3 3M312.32 385.50l3 -3" stroke="#5aa92e" stroke-width="0.7" fill="none"/><path d="M318.15 379.48l3 3M318.15 382.48l3 -3" stroke="#5aa92e" stroke-width="0.7" fill="none"/><path d="M323.98 376.78l3 3M323.98 379.78l3 -3" stroke="#5aa92e" stroke-width="0.7" fill="none"/><path d="M329.82 374.29l3 3M329.82 377.29l3 -3" stroke="#5aa92e" stroke-width="0.7" fill="none"/><path d="M335.65 372.02l3 3M335.65 375.02l3 -3" stroke="#5aa92e" stroke-width="0.7" fill="none"/><path d="M341.48 370.06l3 3M341.48 373.06l3 -3" stroke="#5aa92e" stroke-width="0.7" fill="none"/><path d="M347.31 368.30l3 3M347.31 371.30l3 -3" stroke="#5aa92e" stroke-width="0.7" fill="none"/><path d="M353.14 366.70l3 3M353.14 369.70l3 -3" stroke="#5aa92e" stroke-width="0.7" fill="none"/><path d="M358.98 365.28l3 3M358.98 368.28l3 -3" stroke="#5aa92e" stroke-width="0.7" fill="none"/><path d="M364.81 364.03l3 3M364.81 367.03l3 -3" stroke="#5aa92e" stroke-width="0.7" fill="none"/><path d="M370.64 362.61l3 3M370.64 365.61l3 -3" stroke="#5aa92e" stroke-width="0.7" fill="none"/>
<path d="M255.50 430.99C256.47 430.16 259.39 427.66 261.33 425.99C263.28 424.33 265.22 422.68 267.16 421.00C269.11 419.32 271.05 417.60 273.00 415.91C274.94 414.23 276.88 412.54 278.83 410.88C280.77 409.22 282.72 407.57 284.66 405.94C286.60 404.32 288.55 402.72 290.49 401.13C292.44 399.55 294.38 397.94 296.32 396.45C298.27 394.96 300.21 393.52 302.16 392.19C304.10 390.85 306.04 389.63 307.99 388.45C309.93 387.28 311.88 386.18 313.82 385.14C315.76 384.10 317.71 383.12 319.65 382.20C321.60 381.29 323.54 380.48 325.48 379.67C327.43 378.86 329.37 378.09 331.32 377.36C333.26 376.62 335.20 375.91 337.15 375.26C339.09 374.62 341.04 374.04 342.98 373.49C344.92 372.94 346.87 372.45 348.81 371.97C350.76 371.49 352.70 371.04 354.64 370.60C356.59 370.17 358.53 369.73 360.48 369.36C362.42 368.99 364.36 368.71 366.31 368.37C368.25 368.03 371.17 367.49 372.14 367.32" stroke="#e8931c" stroke-width="1.15" fill="none"/>
<path d="M254.00 429.49l3 3M254.00 432.49l3 -3" stroke="#e8931c" stroke-width="0.7" fill="none"/><path d="M259.83 424.49l3 3M259.83 427.49l3 -3" stroke="#e8931c" stroke-width="0.7" fill="none"/><path d="M265.66 419.50l3 3M265.66 422.50l3 -3" stroke="#e8931c" stroke-width="0.7" fill="none"/><path d="M271.50 414.41l3 3M271.50 417.41l3 -3" stroke="#e8931c" stroke-width="0.7" fill="none"/><path d="M277.33 409.38l3 3M277.33 412.38l3 -3" stroke="#e8931c" stroke-width="0.7" fill="none"/><path d="M283.16 404.44l3 3M283.16 407.44l3 -3" stroke="#e8931c" stroke-width="0.7" fill="none"/><path d="M288.99 399.63l3 3M288.99 402.63l3 -3" stroke="#e8931c" stroke-width="0.7" fill="none"/><path d="M294.82 394.95l3 3M294.82 397.95l3 -3" stroke="#e8931c" stroke-width="0.7" fill="none"/><path d="M300.66 390.69l3 3M300.66 393.69l3 -3" stroke="#e8931c" stroke-width="0.7" fill="none"/><path d="M306.49 386.95l3 3M306.49 389.95l3 -3" stroke="#e8931c" stroke-width="0.7" fill="none"/><path d="M312.32 383.64l3 3M312.32 386.64l3 -3" stroke="#e8931c" stroke-width="0.7" fill="none"/><path d="M318.15 380.70l3 3M318.15 383.70l3 -3" stroke="#e8931c" stroke-width="0.7" fill="none"/><path d="M323.98 378.17l3 3M323.98 381.17l3 -3" stroke="#e8931c" stroke-width="0.7" fill="none"/><path d="M329.82 375.86l3 3M329.82 378.86l3 -3" stroke="#e8931c" stroke-width="0.7" fill="none"/><path d="M335.65 373.76l3 3M335.65 376.76l3 -3" stroke="#e8931c" stroke-width="0.7" fill="none"/><path d="M341.48 371.99l3 3M341.48 374.99l3 -3" stroke="#e8931c" stroke-width="0.7" fill="none"/><path d="M347.31 370.47l3 3M347.31 373.47l3 -3" stroke="#e8931c" stroke-width="0.7" fill="none"/><path d="M353.14 369.10l3 3M353.14 372.10l3 -3" stroke="#e8931c" stroke-width="0.7" fill="none"/><path d="M358.98 367.86l3 3M358.98 370.86l3 -3" stroke="#e8931c" stroke-width="0.7" fill="none"/><path d="M364.81 366.87l3 3M364.81 369.87l3 -3" stroke="#e8931c" stroke-width="0.7" fill="none"/><path d="M370.64 365.82l3 3M370.64 368.82l3 -3" stroke="#e8931c" stroke-width="0.7" fill="none"/>
<path d="M255.50 431.73C256.47 430.90 259.39 428.40 261.33 426.73C263.28 425.07 265.22 423.45 267.16 421.74C269.11 420.03 271.05 418.23 273.00 416.48C274.94 414.73 276.88 412.97 278.83 411.22C280.77 409.48 282.72 407.74 284.66 406.00C286.60 404.27 288.55 402.53 290.49 400.81C292.44 399.09 294.38 397.32 296.32 395.68C298.27 394.05 300.21 392.44 302.16 390.98C304.10 389.51 306.04 388.20 307.99 386.92C309.93 385.64 311.88 384.45 313.82 383.29C315.76 382.12 317.71 380.96 319.65 379.91C321.60 378.86 323.54 377.93 325.48 377.01C327.43 376.08 329.37 375.19 331.32 374.34C333.26 373.49 335.20 372.66 337.15 371.89C339.09 371.13 341.04 370.44 342.98 369.76C344.92 369.08 346.87 368.45 348.81 367.82C350.76 367.20 352.70 366.60 354.64 366.01C356.59 365.43 358.53 364.89 360.48 364.33C362.42 363.76 364.36 363.23 366.31 362.64C368.25 362.05 371.17 361.09 372.14 360.78" stroke="#2c4f9c" stroke-width="1.15" fill="none"/>
<rect x="253.50" y="429.73" width="4.0" height="4.0" fill="none" stroke="#2c4f9c" stroke-width="0.8"/><rect x="259.33" y="424.73" width="4.0" height="4.0" fill="none" stroke="#2c4f9c" stroke-width="0.8"/><rect x="265.16" y="419.74" width="4.0" height="4.0" fill="none" stroke="#2c4f9c" stroke-width="0.8"/><rect x="271.00" y="414.48" width="4.0" height="4.0" fill="none" stroke="#2c4f9c" stroke-width="0.8"/><rect x="276.83" y="409.22" width="4.0" height="4.0" fill="none" stroke="#2c4f9c" stroke-width="0.8"/><rect x="282.66" y="404.00" width="4.0" height="4.0" fill="none" stroke="#2c4f9c" stroke-width="0.8"/><rect x="288.49" y="398.81" width="4.0" height="4.0" fill="none" stroke="#2c4f9c" stroke-width="0.8"/><rect x="294.32" y="393.68" width="4.0" height="4.0" fill="none" stroke="#2c4f9c" stroke-width="0.8"/><rect x="300.16" y="388.98" width="4.0" height="4.0" fill="none" stroke="#2c4f9c" stroke-width="0.8"/><rect x="305.99" y="384.92" width="4.0" height="4.0" fill="none" stroke="#2c4f9c" stroke-width="0.8"/><rect x="311.82" y="381.29" width="4.0" height="4.0" fill="none" stroke="#2c4f9c" stroke-width="0.8"/><rect x="317.65" y="377.91" width="4.0" height="4.0" fill="none" stroke="#2c4f9c" stroke-width="0.8"/><rect x="323.48" y="375.01" width="4.0" height="4.0" fill="none" stroke="#2c4f9c" stroke-width="0.8"/><rect x="329.32" y="372.34" width="4.0" height="4.0" fill="none" stroke="#2c4f9c" stroke-width="0.8"/><rect x="335.15" y="369.89" width="4.0" height="4.0" fill="none" stroke="#2c4f9c" stroke-width="0.8"/><rect x="340.98" y="367.76" width="4.0" height="4.0" fill="none" stroke="#2c4f9c" stroke-width="0.8"/><rect x="346.81" y="365.82" width="4.0" height="4.0" fill="none" stroke="#2c4f9c" stroke-width="0.8"/><rect x="352.64" y="364.01" width="4.0" height="4.0" fill="none" stroke="#2c4f9c" stroke-width="0.8"/><rect x="358.48" y="362.33" width="4.0" height="4.0" fill="none" stroke="#2c4f9c" stroke-width="0.8"/><rect x="364.31" y="360.64" width="4.0" height="4.0" fill="none" stroke="#2c4f9c" stroke-width="0.8"/><rect x="370.14" y="358.78" width="4.0" height="4.0" fill="none" stroke="#2c4f9c" stroke-width="0.8"/>
<path d="M255.50 431.36C256.47 430.53 259.39 428.03 261.33 426.36C263.28 424.70 265.22 423.08 267.16 421.37C269.11 419.66 271.05 417.86 273.00 416.11C274.94 414.36 276.88 412.60 278.83 410.85C280.77 409.11 282.72 407.37 284.66 405.63C286.60 403.90 288.55 402.16 290.49 400.44C292.44 398.72 294.38 396.95 296.32 395.31C298.27 393.68 300.21 392.07 302.16 390.61C304.10 389.14 306.04 387.83 307.99 386.55C309.93 385.27 311.88 384.08 313.82 382.92C315.76 381.75 317.71 380.59 319.65 379.54C321.60 378.49 323.54 377.56 325.48 376.64C327.43 375.71 329.37 374.82 331.32 373.97C333.26 373.12 335.20 372.29 337.15 371.52C339.09 370.76 341.04 370.07 342.98 369.39C344.92 368.71 346.87 368.08 348.81 367.45C350.76 366.83 352.70 366.23 354.64 365.64C356.59 365.06 358.53 364.52 360.48 363.96C362.42 363.39 364.36 362.86 366.31 362.27C368.25 361.68 371.17 360.72 372.14 360.41" stroke="#9b8fd2" stroke-width="1.15" fill="none"/>
<circle cx="255.50" cy="431.36" r="2.0" fill="none" stroke="#9b8fd2" stroke-width="0.8"/><circle cx="261.33" cy="426.36" r="2.0" fill="none" stroke="#9b8fd2" stroke-width="0.8"/><circle cx="267.16" cy="421.37" r="2.0" fill="none" stroke="#9b8fd2" stroke-width="0.8"/><circle cx="273.00" cy="416.11" r="2.0" fill="none" stroke="#9b8fd2" stroke-width="0.8"/><circle cx="278.83" cy="410.85" r="2.0" fill="none" stroke="#9b8fd2" stroke-width="0.8"/><circle cx="284.66" cy="405.63" r="2.0" fill="none" stroke="#9b8fd2" stroke-width="0.8"/><circle cx="290.49" cy="400.44" r="2.0" fill="none" stroke="#9b8fd2" stroke-width="0.8"/><circle cx="296.32" cy="395.31" r="2.0" fill="none" stroke="#9b8fd2" stroke-width="0.8"/><circle cx="302.16" cy="390.61" r="2.0" fill="none" stroke="#9b8fd2" stroke-width="0.8"/><circle cx="307.99" cy="386.55" r="2.0" fill="none" stroke="#9b8fd2" stroke-width="0.8"/><circle cx="313.82" cy="382.92" r="2.0" fill="none" stroke="#9b8fd2" stroke-width="0.8"/><circle cx="319.65" cy="379.54" r="2.0" fill="none" stroke="#9b8fd2" stroke-width="0.8"/><circle cx="325.48" cy="376.64" r="2.0" fill="none" stroke="#9b8fd2" stroke-width="0.8"/><circle cx="331.32" cy="373.97" r="2.0" fill="none" stroke="#9b8fd2" stroke-width="0.8"/><circle cx="337.15" cy="371.52" r="2.0" fill="none" stroke="#9b8fd2" stroke-width="0.8"/><circle cx="342.98" cy="369.39" r="2.0" fill="none" stroke="#9b8fd2" stroke-width="0.8"/><circle cx="348.81" cy="367.45" r="2.0" fill="none" stroke="#9b8fd2" stroke-width="0.8"/><circle cx="354.64" cy="365.64" r="2.0" fill="none" stroke="#9b8fd2" stroke-width="0.8"/><circle cx="360.48" cy="363.96" r="2.0" fill="none" stroke="#9b8fd2" stroke-width="0.8"/><circle cx="366.31" cy="362.27" r="2.0" fill="none" stroke="#9b8fd2" stroke-width="0.8"/><circle cx="372.14" cy="360.41" r="2.0" fill="none" stroke="#9b8fd2" stroke-width="0.8"/>
<path d="M255.50 430.99C256.47 430.16 259.39 427.66 261.33 425.99C263.28 424.33 265.22 422.71 267.16 421.00C269.11 419.29 271.05 417.49 273.00 415.74C274.94 413.99 276.88 412.23 278.83 410.48C280.77 408.74 282.72 407.00 284.66 405.26C286.60 403.53 288.55 401.79 290.49 400.07C292.44 398.35 294.38 396.58 296.32 394.94C298.27 393.30 300.21 391.70 302.16 390.24C304.10 388.77 306.04 387.46 307.99 386.18C309.93 384.90 311.88 383.71 313.82 382.55C315.76 381.38 317.71 380.22 319.65 379.17C321.60 378.12 323.54 377.19 325.48 376.27C327.43 375.34 329.37 374.45 331.32 373.60C333.26 372.75 335.20 371.92 337.15 371.15C339.09 370.39 341.04 369.70 342.98 369.02C344.92 368.34 346.87 367.71 348.81 367.08C350.76 366.46 352.70 365.86 354.64 365.27C356.59 364.69 358.53 364.15 360.48 363.59C362.42 363.02 364.36 362.49 366.31 361.90C368.25 361.31 371.17 360.35 372.14 360.04" stroke="#4d5a7c" stroke-width="1.15" fill="none"/>
<circle cx="255.50" cy="430.99" r="2.0" fill="none" stroke="#4d5a7c" stroke-width="0.8"/><circle cx="261.33" cy="425.99" r="2.0" fill="none" stroke="#4d5a7c" stroke-width="0.8"/><circle cx="267.16" cy="421.00" r="2.0" fill="none" stroke="#4d5a7c" stroke-width="0.8"/><circle cx="273.00" cy="415.74" r="2.0" fill="none" stroke="#4d5a7c" stroke-width="0.8"/><circle cx="278.83" cy="410.48" r="2.0" fill="none" stroke="#4d5a7c" stroke-width="0.8"/><circle cx="284.66" cy="405.26" r="2.0" fill="none" stroke="#4d5a7c" stroke-width="0.8"/><circle cx="290.49" cy="400.07" r="2.0" fill="none" stroke="#4d5a7c" stroke-width="0.8"/><circle cx="296.32" cy="394.94" r="2.0" fill="none" stroke="#4d5a7c" stroke-width="0.8"/><circle cx="302.16" cy="390.24" r="2.0" fill="none" stroke="#4d5a7c" stroke-width="0.8"/><circle cx="307.99" cy="386.18" r="2.0" fill="none" stroke="#4d5a7c" stroke-width="0.8"/><circle cx="313.82" cy="382.55" r="2.0" fill="none" stroke="#4d5a7c" stroke-width="0.8"/><circle cx="319.65" cy="379.17" r="2.0" fill="none" stroke="#4d5a7c" stroke-width="0.8"/><circle cx="325.48" cy="376.27" r="2.0" fill="none" stroke="#4d5a7c" stroke-width="0.8"/><circle cx="331.32" cy="373.60" r="2.0" fill="none" stroke="#4d5a7c" stroke-width="0.8"/><circle cx="337.15" cy="371.15" r="2.0" fill="none" stroke="#4d5a7c" stroke-width="0.8"/><circle cx="342.98" cy="369.02" r="2.0" fill="none" stroke="#4d5a7c" stroke-width="0.8"/><circle cx="348.81" cy="367.08" r="2.0" fill="none" stroke="#4d5a7c" stroke-width="0.8"/><circle cx="354.64" cy="365.27" r="2.0" fill="none" stroke="#4d5a7c" stroke-width="0.8"/><circle cx="360.48" cy="363.59" r="2.0" fill="none" stroke="#4d5a7c" stroke-width="0.8"/><circle cx="366.31" cy="361.90" r="2.0" fill="none" stroke="#4d5a7c" stroke-width="0.8"/><circle cx="372.14" cy="360.04" r="2.0" fill="none" stroke="#4d5a7c" stroke-width="0.8"/>
<path d="M255.50 430.99C256.47 430.16 259.39 427.66 261.33 425.99C263.28 424.33 265.22 422.66 267.16 421.00C269.11 419.33 271.05 417.64 273.00 416.00C274.94 414.36 276.88 412.72 278.83 411.15C280.77 409.58 282.72 408.04 284.66 406.56C286.60 405.07 288.55 403.64 290.49 402.23C292.44 400.83 294.38 399.34 296.32 398.11C298.27 396.87 300.21 395.81 302.16 394.82C304.10 393.83 306.04 392.98 307.99 392.19C309.93 391.39 311.88 390.68 313.82 390.02C315.76 389.37 317.71 388.80 319.65 388.25C321.60 387.69 323.54 387.19 325.48 386.71C327.43 386.22 329.37 385.76 331.32 385.33C333.26 384.90 335.20 384.49 337.15 384.10C339.09 383.72 341.04 383.37 342.98 383.04C344.92 382.70 346.87 382.40 348.81 382.10C350.76 381.81 352.70 381.53 354.64 381.27C356.59 381.01 358.53 380.77 360.48 380.56C362.42 380.35 364.36 380.21 366.31 380.02C368.25 379.83 371.17 379.51 372.14 379.41" stroke="#e0208c" stroke-width="1.15" fill="none"/>
<path d="M255.50 428.69l2.2 3.8h-4.4Z" fill="none" stroke="#e0208c" stroke-width="0.8"/><path d="M261.33 423.69l2.2 3.8h-4.4Z" fill="none" stroke="#e0208c" stroke-width="0.8"/><path d="M267.16 418.70l2.2 3.8h-4.4Z" fill="none" stroke="#e0208c" stroke-width="0.8"/><path d="M273.00 413.70l2.2 3.8h-4.4Z" fill="none" stroke="#e0208c" stroke-width="0.8"/><path d="M278.83 408.85l2.2 3.8h-4.4Z" fill="none" stroke="#e0208c" stroke-width="0.8"/><path d="M284.66 404.26l2.2 3.8h-4.4Z" fill="none" stroke="#e0208c" stroke-width="0.8"/><path d="M290.49 399.93l2.2 3.8h-4.4Z" fill="none" stroke="#e0208c" stroke-width="0.8"/><path d="M296.32 395.81l2.2 3.8h-4.4Z" fill="none" stroke="#e0208c" stroke-width="0.8"/><path d="M302.16 392.52l2.2 3.8h-4.4Z" fill="none" stroke="#e0208c" stroke-width="0.8"/><path d="M307.99 389.89l2.2 3.8h-4.4Z" fill="none" stroke="#e0208c" stroke-width="0.8"/><path d="M313.82 387.72l2.2 3.8h-4.4Z" fill="none" stroke="#e0208c" stroke-width="0.8"/><path d="M319.65 385.95l2.2 3.8h-4.4Z" fill="none" stroke="#e0208c" stroke-width="0.8"/><path d="M325.48 384.41l2.2 3.8h-4.4Z" fill="none" stroke="#e0208c" stroke-width="0.8"/><path d="M331.32 383.03l2.2 3.8h-4.4Z" fill="none" stroke="#e0208c" stroke-width="0.8"/><path d="M337.15 381.80l2.2 3.8h-4.4Z" fill="none" stroke="#e0208c" stroke-width="0.8"/><path d="M342.98 380.74l2.2 3.8h-4.4Z" fill="none" stroke="#e0208c" stroke-width="0.8"/><path d="M348.81 379.80l2.2 3.8h-4.4Z" fill="none" stroke="#e0208c" stroke-width="0.8"/><path d="M354.64 378.97l2.2 3.8h-4.4Z" fill="none" stroke="#e0208c" stroke-width="0.8"/><path d="M360.48 378.26l2.2 3.8h-4.4Z" fill="none" stroke="#e0208c" stroke-width="0.8"/><path d="M366.31 377.72l2.2 3.8h-4.4Z" fill="none" stroke="#e0208c" stroke-width="0.8"/><path d="M372.14 377.11l2.2 3.8h-4.4Z" fill="none" stroke="#e0208c" stroke-width="0.8"/>
<path d="M255.50 430.99C256.47 430.20 259.39 427.79 261.33 426.22C263.28 424.64 265.22 423.11 267.16 421.54C269.11 419.97 271.05 418.34 273.00 416.79C274.94 415.24 276.88 413.68 278.83 412.24C280.77 410.79 282.72 409.39 284.66 408.10C286.60 406.81 288.55 405.62 290.49 404.48C292.44 403.34 294.38 402.17 296.32 401.25C298.27 400.32 300.21 399.61 302.16 398.94C304.10 398.27 306.04 397.73 307.99 397.22C309.93 396.71 311.88 396.30 313.82 395.90C315.76 395.50 317.71 395.15 319.65 394.83C321.60 394.51 323.54 394.27 325.48 394.00C327.43 393.74 329.37 393.49 331.32 393.25C333.26 393.00 335.20 392.77 337.15 392.55C339.09 392.33 341.04 392.11 342.98 391.92C344.92 391.74 346.87 391.58 348.81 391.43C350.76 391.28 352.70 391.14 354.64 391.02C356.59 390.89 358.53 390.76 360.48 390.66C362.42 390.56 364.36 390.47 366.31 390.39C368.25 390.30 371.17 390.19 372.14 390.15" stroke="#b0122c" stroke-width="1.15" fill="none"/>
<path d="M254.00 429.49l3 3M254.00 432.49l3 -3M255.50 429.19v3.6" stroke="#b0122c" stroke-width="0.7" fill="none"/><path d="M259.83 424.72l3 3M259.83 427.72l3 -3M261.33 424.42v3.6" stroke="#b0122c" stroke-width="0.7" fill="none"/><path d="M265.66 420.04l3 3M265.66 423.04l3 -3M267.16 419.74v3.6" stroke="#b0122c" stroke-width="0.7" fill="none"/><path d="M271.50 415.29l3 3M271.50 418.29l3 -3M273.00 414.99v3.6" stroke="#b0122c" stroke-width="0.7" fill="none"/><path d="M277.33 410.74l3 3M277.33 413.74l3 -3M278.83 410.44v3.6" stroke="#b0122c" stroke-width="0.7" fill="none"/><path d="M283.16 406.60l3 3M283.16 409.60l3 -3M284.66 406.30v3.6" stroke="#b0122c" stroke-width="0.7" fill="none"/><path d="M288.99 402.98l3 3M288.99 405.98l3 -3M290.49 402.68v3.6" stroke="#b0122c" stroke-width="0.7" fill="none"/><path d="M294.82 399.75l3 3M294.82 402.75l3 -3M296.32 399.45v3.6" stroke="#b0122c" stroke-width="0.7" fill="none"/><path d="M300.66 397.44l3 3M300.66 400.44l3 -3M302.16 397.14v3.6" stroke="#b0122c" stroke-width="0.7" fill="none"/><path d="M306.49 395.72l3 3M306.49 398.72l3 -3M307.99 395.42v3.6" stroke="#b0122c" stroke-width="0.7" fill="none"/><path d="M312.32 394.40l3 3M312.32 397.40l3 -3M313.82 394.10v3.6" stroke="#b0122c" stroke-width="0.7" fill="none"/><path d="M318.15 393.33l3 3M318.15 396.33l3 -3M319.65 393.03v3.6" stroke="#b0122c" stroke-width="0.7" fill="none"/><path d="M323.98 392.50l3 3M323.98 395.50l3 -3M325.48 392.20v3.6" stroke="#b0122c" stroke-width="0.7" fill="none"/><path d="M329.82 391.75l3 3M329.82 394.75l3 -3M331.32 391.45v3.6" stroke="#b0122c" stroke-width="0.7" fill="none"/><path d="M335.65 391.05l3 3M335.65 394.05l3 -3M337.15 390.75v3.6" stroke="#b0122c" stroke-width="0.7" fill="none"/><path d="M341.48 390.42l3 3M341.48 393.42l3 -3M342.98 390.12v3.6" stroke="#b0122c" stroke-width="0.7" fill="none"/><path d="M347.31 389.93l3 3M347.31 392.93l3 -3M348.81 389.63v3.6" stroke="#b0122c" stroke-width="0.7" fill="none"/><path d="M353.14 389.52l3 3M353.14 392.52l3 -3M354.64 389.22v3.6" stroke="#b0122c" stroke-width="0.7" fill="none"/><path d="M358.98 389.16l3 3M358.98 392.16l3 -3M360.48 388.86v3.6" stroke="#b0122c" stroke-width="0.7" fill="none"/><path d="M364.81 388.89l3 3M364.81 391.89l3 -3M366.31 388.59v3.6" stroke="#b0122c" stroke-width="0.7" fill="none"/><path d="M370.64 388.65l3 3M370.64 391.65l3 -3M372.14 388.35v3.6" stroke="#b0122c" stroke-width="0.7" fill="none"/>
<path d="M255.5 359.69V445.8H387.6" stroke="#111" stroke-width="1.25" fill="none"/>
<path d="M252.7 445.80H255.5" stroke="#111" stroke-width="1.0"/>
<text x="249.80" y="448.60" font-size="8.0" text-anchor="end" fill="#111" >0.0</text>
<path d="M252.7 421.12H255.5" stroke="#111" stroke-width="1.0"/>
<text x="249.80" y="423.92" font-size="8.0" text-anchor="end" fill="#111" >0.2</text>
<path d="M252.7 396.44H255.5" stroke="#111" stroke-width="1.0"/>
<text x="249.80" y="399.24" font-size="8.0" text-anchor="end" fill="#111" >0.4</text>
<path d="M252.7 371.76H255.5" stroke="#111" stroke-width="1.0"/>
<text x="249.80" y="374.56" font-size="8.0" text-anchor="end" fill="#111" >0.6</text>
<path d="M255.50 445.8v2.8" stroke="#111" stroke-width="1.0"/>
<text x="255.50" y="458.60" font-size="7.9" text-anchor="middle" fill="#111" >0</text>
<path d="M287.70 445.8v2.8" stroke="#111" stroke-width="1.0"/>
<text x="287.70" y="458.60" font-size="7.9" text-anchor="middle" fill="#111" >1000</text>
<path d="M319.80 445.8v2.8" stroke="#111" stroke-width="1.0"/>
<text x="319.80" y="458.60" font-size="7.9" text-anchor="middle" fill="#111" >2000</text>
<path d="M352.00 445.8v2.8" stroke="#111" stroke-width="1.0"/>
<text x="352.00" y="458.60" font-size="7.9" text-anchor="middle" fill="#111" >3000</text>
<path d="M384.40 445.8v2.8" stroke="#111" stroke-width="1.0"/>
<text x="384.40" y="458.60" font-size="7.9" text-anchor="middle" fill="#111" >4000</text>
<text x="322.00" y="471.80" font-size="8.6" text-anchor="middle" fill="#111" textLength="37.20" lengthAdjust="spacingAndGlyphs" >Times (sec)</text>
<text x="220.30" y="402.30" font-size="8.6" text-anchor="middle" fill="#111" transform="rotate(-90 220.30 402.30)" textLength="75.60" lengthAdjust="spacingAndGlyphs" >Relative OGDH activity</text>
<text x="232.50" y="402.30" font-size="8.6" text-anchor="middle" fill="#111" transform="rotate(-90 232.50 402.30)" textLength="43.30" lengthAdjust="spacingAndGlyphs" >(OD 450nm)</text>
<text x="262.00" y="369.80" font-size="7.3" text-anchor="start" fill="#111" >K562</text>
<text x="403.00" y="308.80" font-size="7.6" text-anchor="start" fill="#111" textLength="43.20" lengthAdjust="spacingAndGlyphs" >D-2HG (mM)</text>
<path d="M410.7 321.30H419.5" stroke="#4d5a7c" stroke-width="1.15"/>
<circle cx="415.10" cy="321.30" r="1.5" fill="none" stroke="#4d5a7c" stroke-width="0.9"/>
<text x="423.40" y="324.10" font-size="7.8" text-anchor="start" fill="#111" >0</text>
<path d="M410.7 331.01H419.5" stroke="#9b8fd2" stroke-width="1.15"/>
<circle cx="415.10" cy="331.01" r="1.5" fill="none" stroke="#9b8fd2" stroke-width="0.9"/>
<text x="423.40" y="333.81" font-size="7.8" text-anchor="start" fill="#111" >0.5</text>
<path d="M410.7 340.72H419.5" stroke="#6db6ea" stroke-width="1.15"/>
<path d="M415.10 338.72l1.5 2.0l-1.5 2.0l-1.5 -2.0Z" fill="none" stroke="#6db6ea" stroke-width="0.8"/>
<text x="423.40" y="343.52" font-size="7.8" text-anchor="start" fill="#111" >1.0</text>
<path d="M410.7 350.43H419.5" stroke="#2c4f9c" stroke-width="1.15"/>
<rect x="413.50" y="348.93" width="3.2" height="3.0" fill="none" stroke="#2c4f9c" stroke-width="0.8"/>
<text x="423.40" y="353.23" font-size="7.8" text-anchor="start" fill="#111" >2.0</text>
<path d="M410.7 360.14H419.5" stroke="#5aa92e" stroke-width="1.15"/>
<circle cx="415.10" cy="360.14" r="1.6" fill="#5aa92e"/>
<text x="423.40" y="362.94" font-size="7.8" text-anchor="start" fill="#111" >4.0</text>
<path d="M410.7 369.85H419.5" stroke="#e8931c" stroke-width="1.15"/>
<path d="M413.90 368.65l2.4 2.4M413.90 371.05l2.4 -2.4" stroke="#e8931c" stroke-width="0.7" fill="none"/>
<text x="423.40" y="372.65" font-size="7.8" text-anchor="start" fill="#111" >8.0</text>
<path d="M410.7 379.56H419.5" stroke="#e0208c" stroke-width="1.15"/>
<path d="M415.10 377.56l1.9 3.3h-3.8Z" fill="none" stroke="#e0208c" stroke-width="0.8"/>
<text x="423.40" y="382.36" font-size="7.8" text-anchor="start" fill="#111" >16.0</text>
<path d="M410.7 389.27H419.5" stroke="#b0122c" stroke-width="1.15"/>
<path d="M413.90 388.07l2.4 2.4M413.90 390.47l2.4 -2.4M415.10 387.77v3" stroke="#b0122c" stroke-width="0.7" fill="none"/>
<text x="423.40" y="392.07" font-size="7.8" text-anchor="start" fill="#111" >32.0</text>
<text x="40.50" y="511.30" font-size="8.0" text-anchor="middle" fill="#111" >Ctrl</text>
<text x="85.00" y="511.30" font-size="8.0" text-anchor="middle" fill="#111" >D-2HG</text>
<clipPath id="c16"><rect x="18.00" y="513.90" width="44.30" height="44.10"/></clipPath><g clip-path="url(#c16)"><rect x="15.00" y="510.90" width="50.30" height="50.10" fill="#a98fcc"/><g filter="url(#disp)"><rect x="15.00" y="510.90" width="50.30" height="50.10" fill="#a98fcc"/><circle cx="54.0" cy="527.9" r="6" fill="#c9abd8" filter="url(#b3)"/><circle cx="38.0" cy="543.9" r="5" fill="#b89ad0" filter="url(#b3)"/><circle cx="21.0" cy="533.9" r="4" fill="#c4a8d6" filter="url(#b3)"/><circle cx="27.0" cy="549.9" r="8.5" fill="#fdfbfe" filter="url(#b3)"/><circle cx="21.0" cy="542.9" r="4.5" fill="#fdfbfe" filter="url(#b3)"/><circle cx="33.0" cy="556.9" r="5.5" fill="#fdfbfe" filter="url(#b3)"/><circle cx="59.0" cy="541.4" r="4.2" fill="#fdfbfe" filter="url(#b3)"/><circle cx="19.5" cy="526.9" r="3" fill="#fdfbfe" filter="url(#b3)"/><circle cx="54.0" cy="517.9" r="2.5" fill="#fdfbfe" filter="url(#b3)"/><circle cx="23.4" cy="519.3" r="5.1" fill="#4b2c90" filter="url(#b2)"/><circle cx="36.0" cy="519.3" r="5.1" fill="#3c1f80" filter="url(#b2)"/><circle cx="45.0" cy="524.9" r="5.1" fill="#3c1f80" filter="url(#b2)"/><circle cx="29.0" cy="531.9" r="6.1" fill="#3c1f80" filter="url(#b2)"/><circle cx="43.0" cy="537.4" r="5.7" fill="#3c1f80" filter="url(#b2)"/><circle cx="49.0" cy="544.9" r="5.5" fill="#3c1f80" filter="url(#b2)"/><circle cx="41.5" cy="550.4" r="4.9" fill="#6c4aa8" filter="url(#b2)"/><circle cx="59.8" cy="524.9" r="4.5" fill="#4b2c90" filter="url(#b2)"/><circle cx="47.0" cy="556.9" r="4.3" fill="#4b2c90" filter="url(#b2)"/><circle cx="59.5" cy="550.9" r="4.7" fill="#6c4aa8" filter="url(#b2)"/><circle cx="30.0" cy="523.4" r="4.1" fill="#6c4aa8" filter="url(#b2)"/><circle cx="52.0" cy="533.9" r="3.7" fill="#6c4aa8" filter="url(#b2)"/><circle cx="37.0" cy="527.9" r="3.7" fill="#6c4aa8" filter="url(#b2)"/><circle cx="35.0" cy="541.9" r="3.7" fill="#8a6abc" filter="url(#b2)"/><circle cx="56.0" cy="556.9" r="3.5" fill="#8a6abc" filter="url(#b2)"/></g><rect x="18.00" y="513.90" width="44.30" height="44.10" fill="#f4ecf8" opacity="0.2" filter="url(#grain)"/></g>
<clipPath id="c17"><rect x="64.40" y="513.90" width="43.60" height="44.10"/></clipPath><g clip-path="url(#c17)"><rect x="61.40" y="510.90" width="49.60" height="50.10" fill="#a288c8"/><g filter="url(#disp)"><rect x="61.40" y="510.90" width="49.60" height="50.10" fill="#a288c8"/><circle cx="69.4" cy="535.9" r="4.5" fill="#c4a8d6" filter="url(#b3)"/><circle cx="104.4" cy="527.9" r="4" fill="#bda0d2" filter="url(#b3)"/><circle cx="98.4" cy="549.9" r="3.5" fill="#c9abd8" filter="url(#b3)"/><circle cx="66.9" cy="517.4" r="6" fill="#fdfbfe" filter="url(#b3)"/><circle cx="65.9" cy="544.9" r="4.5" fill="#fdfbfe" filter="url(#b3)"/><circle cx="67.4" cy="554.9" r="3.8" fill="#fdfbfe" filter="url(#b3)"/><circle cx="106.4" cy="514.9" r="3.2" fill="#fdfbfe" filter="url(#b3)"/><circle cx="101.9" cy="546.4" r="3.6" fill="#fdfbfe" filter="url(#b3)"/><circle cx="88.4" cy="557.4" r="2.8" fill="#fdfbfe" filter="url(#b3)"/><circle cx="106.9" cy="537.9" r="2.4" fill="#fdfbfe" filter="url(#b3)"/><circle cx="77.0" cy="531.9" r="5.1" fill="#3c1f80" filter="url(#b2)"/><circle cx="84.4" cy="520.9" r="5.1" fill="#4b2c90" filter="url(#b2)"/><circle cx="91.9" cy="519.3" r="4.9" fill="#3c1f80" filter="url(#b2)"/><circle cx="96.9" cy="526.5" r="5.1" fill="#3c1f80" filter="url(#b2)"/><circle cx="87.9" cy="535.6" r="5.7" fill="#3c1f80" filter="url(#b2)"/><circle cx="80.4" cy="541.4" r="5.1" fill="#3c1f80" filter="url(#b2)"/><circle cx="91.4" cy="544.6" r="5.7" fill="#3c1f80" filter="url(#b2)"/><circle cx="75.4" cy="549.9" r="4.5" fill="#4b2c90" filter="url(#b2)"/><circle cx="86.1" cy="550.9" r="4.9" fill="#3c1f80" filter="url(#b2)"/><circle cx="107.4" cy="546.9" r="3.5" fill="#4b2c90" filter="url(#b2)"/><circle cx="100.4" cy="534.4" r="4.9" fill="#4b2c90" filter="url(#b2)"/><circle cx="82.4" cy="556.9" r="3.9" fill="#4b2c90" filter="url(#b2)"/><circle cx="76.4" cy="556.9" r="3.7" fill="#6c4aa8" filter="url(#b2)"/><circle cx="95.4" cy="554.4" r="3.9" fill="#6c4aa8" filter="url(#b2)"/><circle cx="71.4" cy="523.9" r="3.9" fill="#6c4aa8" filter="url(#b2)"/><circle cx="104.4" cy="520.4" r="3.9" fill="#6c4aa8" filter="url(#b2)"/><circle cx="102.4" cy="555.9" r="3.1" fill="#8a6abc" filter="url(#b2)"/></g><rect x="64.40" y="513.90" width="43.60" height="44.10" fill="#f4ecf8" opacity="0.2" filter="url(#grain)"/></g>
<path d="M92.9 554.1H105.9" stroke="#111" stroke-width="1.4"/>
<clipPath id="c18"><rect x="17.90" y="559.90" width="44.30" height="44.00"/></clipPath><g clip-path="url(#c18)"><rect x="17.90" y="559.90" width="44.30" height="44.00" fill="#d9cbbd"/><ellipse cx="40.5" cy="599.4" rx="7" ry="2.2" fill="#b5a494" opacity="0.85" filter="url(#b3)"/><path d="M29.6 563.4H46.8L45.0 592.9Q44.5 597.4 40.5 597.5Q36.5 597.4 36.0 592.9Z" fill="#e6dbd0" filter="url(#b1)"/><path d="M33.5 565.4H44.2L44.1 586.9L36.5 588.9Z" fill="#f2c3a6" filter="url(#b2)"/><path d="M37.8 566.4H41.2L41.4 582.9L39.1 583.9Z" fill="#f8dcae" filter="url(#b2)"/><path d="M45.6 583.4L44.8 592.9Q44.4 597.1 40.5 597.2Q36.6 597.1 36.1 592.9L35.6 589.4Z" fill="#9a7434" filter="url(#b1)"/><ellipse cx="38.2" cy="562.1" rx="8.9" ry="2.6" fill="#aeb2b6" filter="url(#b1)"/><ellipse cx="38.2" cy="560.9" rx="6.8" ry="1.9" fill="#54585e" filter="url(#b1)"/><ellipse cx="38.2" cy="560.1" rx="5.4" ry="1.2" fill="#c8ccd0" filter="url(#b1)"/></g>
<clipPath id="c19"><rect x="64.40" y="559.90" width="43.60" height="44.00"/></clipPath><g clip-path="url(#c19)"><rect x="64.40" y="559.90" width="43.60" height="44.00" fill="#d9cbbd"/><ellipse cx="87.8" cy="599.4" rx="7" ry="2.2" fill="#b5a494" opacity="0.85" filter="url(#b3)"/><path d="M79.3 563.4H95.5L91.9 592.9Q91.4 597.4 87.8 597.5Q84.2 597.4 83.7 592.9Z" fill="#e6dbd0" filter="url(#b1)"/><path d="M82.9 565.4H93.1L91.1 586.9L84.1 588.9Z" fill="#eed5cb" filter="url(#b2)"/><path d="M87.0 566.4H90.2L88.6 582.9L86.6 583.9Z" fill="#f6d8d2" filter="url(#b2)"/><path d="M92.5 583.4L91.7 592.9Q91.3 597.1 87.8 597.2Q84.3 597.1 83.8 592.9L83.3 590.4Z" fill="#b29468" filter="url(#b1)"/><ellipse cx="87.4" cy="562.1" rx="8.4" ry="2.6" fill="#aeb2b6" filter="url(#b1)"/><ellipse cx="87.4" cy="560.9" rx="6.3" ry="1.9" fill="#54585e" filter="url(#b1)"/><ellipse cx="87.4" cy="560.1" rx="4.9" ry="1.2" fill="#c8ccd0" filter="url(#b1)"/></g>
<path d="M161.6 513.1H172.6" stroke="#2e4f9e" stroke-width="1.2"/>
<path d="M161.6 521.3H172.6" stroke="#e8931c" stroke-width="1.2"/>
<text x="176.00" y="515.20" font-size="7.6" text-anchor="start" fill="#111" >Ctrl</text>
<text x="176.00" y="523.50" font-size="7.6" text-anchor="start" fill="#111" >D-2HG</text>
<path d="M179.1 586.8L180.4 584.1L181.7 580.4L183.0 578.2L184.3 576.1L185.2 576.6L186.0 575.0L186.9 576.1L187.8 575.3L188.6 574.4L189.5 571.2L190.4 566.4L191.2 559.4L192.1 550.3L193.0 542.2L193.7 537.9L194.4 535.2L195.0 537.4L195.6 537.9L196.0 535.8L196.4 535.2L197.0 537.9L197.7 540.6L198.3 543.8L199.0 547.6L199.7 551.4L200.4 555.1L201.0 560.5L201.6 566.4L202.2 572.3L202.8 577.1L203.5 581.4L204.2 584.1L205.0 586.0L206.0 586.8" stroke="#e8931c" stroke-width="1.1" fill="none" stroke-linejoin="round"/>
<path d="M183.5 586.8L185.2 584.9L186.9 582.8L188.7 580.4L190.4 576.6L192.1 571.8L193.4 564.8L194.7 556.2L195.6 547.6L196.4 540.6L197.1 535.8L197.7 533.6L198.2 533.4L198.7 534.7L199.3 537.9L199.9 542.2L200.7 550.3L201.6 559.6L202.5 568.0L203.4 575.2L204.2 579.8L205.1 583.0L206.3 585.2L207.5 586.3L208.6 586.8" stroke="#2e4f9e" stroke-width="1.1" fill="none" stroke-linejoin="round"/>
<rect x="161.0" y="530.3" width="58.2" height="56.5" fill="none" stroke="#111" stroke-width="1.1"/>
<path d="M159.0 586.80H161.0" stroke="#111" stroke-width="0.8"/>
<text x="158.50" y="589.80" font-size="8.4" text-anchor="end" fill="#111" textLength="5.60" lengthAdjust="spacingAndGlyphs" >0</text>
<path d="M159.0 576.06H161.0" stroke="#111" stroke-width="0.8"/>
<text x="158.50" y="579.06" font-size="8.4" text-anchor="end" fill="#111" textLength="11.30" lengthAdjust="spacingAndGlyphs" >20</text>
<path d="M159.0 565.32H161.0" stroke="#111" stroke-width="0.8"/>
<text x="158.50" y="568.32" font-size="8.4" text-anchor="end" fill="#111" textLength="11.30" lengthAdjust="spacingAndGlyphs" >40</text>
<path d="M159.0 554.58H161.0" stroke="#111" stroke-width="0.8"/>
<text x="158.50" y="557.58" font-size="8.4" text-anchor="end" fill="#111" textLength="11.30" lengthAdjust="spacingAndGlyphs" >60</text>
<path d="M159.0 543.84H161.0" stroke="#111" stroke-width="0.8"/>
<text x="158.50" y="546.84" font-size="8.4" text-anchor="end" fill="#111" textLength="11.30" lengthAdjust="spacingAndGlyphs" >80</text>
<path d="M159.0 533.10H161.0" stroke="#111" stroke-width="0.8"/>
<text x="158.50" y="536.10" font-size="8.4" text-anchor="end" fill="#111" textLength="17.00" lengthAdjust="spacingAndGlyphs" >100</text>
<path d="M162.89 586.8v1.5M165.16 586.8v1.5M167.01 586.8v1.5M168.58 586.8v1.5M169.93 586.8v1.5M171.13 586.8v1.5M179.24 586.8v1.5M183.36 586.8v1.5M186.29 586.8v1.5M188.56 586.8v1.5M190.41 586.8v1.5M191.98 586.8v1.5M193.33 586.8v1.5M194.53 586.8v1.5M202.64 586.8v1.5M206.76 586.8v1.5M209.69 586.8v1.5M211.96 586.8v1.5M213.81 586.8v1.5M215.38 586.8v1.5M216.73 586.8v1.5M217.93 586.8v1.5M172.20 586.8v2.8M195.60 586.8v2.8M218.90 586.8v2.8" stroke="#111" stroke-width="0.6"/>
<text x="167.6" y="599.9" font-size="8.4" fill="#111"><tspan textLength="8.4" lengthAdjust="spacingAndGlyphs">10</tspan><tspan dy="-3.4" font-size="5.6">2</tspan></text>
<text x="190.1" y="599.9" font-size="8.4" fill="#111"><tspan textLength="8.4" lengthAdjust="spacingAndGlyphs">10</tspan><tspan dy="-3.4" font-size="5.6">3</tspan></text>
<text x="212.6" y="599.9" font-size="8.4" fill="#111"><tspan textLength="8.4" lengthAdjust="spacingAndGlyphs">10</tspan><tspan dy="-3.4" font-size="5.6">4</tspan></text>
<path d="M137.9 541V604.1H213" stroke="#111" stroke-width="1.1" fill="none"/>
<path d="M137.9 537.6l-3.1 7.6l3.1 -1.6l3.1 1.6ZM217.6 604.1l-7.6 -3.1l1.6 3.1l-1.6 3.1Z" fill="#111"/>
<text x="132.20" y="567.10" font-size="8.6" text-anchor="middle" fill="#111" transform="rotate(-90 132.20 567.10)" textLength="30.40" lengthAdjust="spacingAndGlyphs" >% of max</text>
<text x="185.80" y="615.80" font-size="8.6" text-anchor="middle" fill="#111" textLength="27.70" lengthAdjust="spacingAndGlyphs" >CD235a</text>
<rect x="281.3" y="542.89" width="15.9" height="61.01" fill="#2c4a86"/>
<rect x="305.7" y="592.52" width="16.1" height="11.38" fill="#e0901a"/>
<path d="M289.4 542.89V537.29M285.2 537.29H293.6M313.5 592.52V590.17M309.3 590.17H317.7" stroke="#222" stroke-width="1.0" fill="none"/>
<path d="M277.8 528.4V603.9H325.5" stroke="#111" stroke-width="1.2" fill="none"/>
<path d="M275.0 603.90H277.8" stroke="#111" stroke-width="1.0"/>
<text x="272.60" y="606.90" font-size="8.6" text-anchor="end" fill="#111" >0</text>
<path d="M275.0 585.60H277.8" stroke="#111" stroke-width="1.0"/>
<text x="272.60" y="588.60" font-size="8.6" text-anchor="end" fill="#111" >500</text>
<path d="M275.0 567.30H277.8" stroke="#111" stroke-width="1.0"/>
<text x="272.60" y="570.30" font-size="8.6" text-anchor="end" fill="#111" >1000</text>
<path d="M275.0 549.00H277.8" stroke="#111" stroke-width="1.0"/>
<text x="272.60" y="552.00" font-size="8.6" text-anchor="end" fill="#111" >1500</text>
<path d="M275.0 530.70H277.8" stroke="#111" stroke-width="1.0"/>
<text x="272.60" y="533.70" font-size="8.6" text-anchor="end" fill="#111" >2000</text>
<path d="M289.4 603.9v2.8M313.5 603.9v2.8" stroke="#111" stroke-width="1.0"/>
<text x="313.50" y="588.60" font-size="7.4" text-anchor="middle" fill="#111" >***</text>
<text x="292.80" y="614.20" font-size="8.4" text-anchor="end" fill="#111" transform="rotate(-45 292.80 614.20)" >Ctrl</text>
<text x="316.80" y="614.20" font-size="8.4" text-anchor="end" fill="#111" transform="rotate(-45 316.80 614.20)" >D-2HG</text>
<text x="247.40" y="565.20" font-size="8.6" text-anchor="middle" fill="#111" transform="rotate(-90 247.40 565.20)" textLength="103.70" lengthAdjust="spacingAndGlyphs" >Heme contents (mg/g protein)</text>
<text x="400.00" y="533.00" font-size="8.0" text-anchor="middle" fill="#111" >Ctrl</text>
<text x="436.80" y="533.00" font-size="8.0" text-anchor="middle" fill="#111" >D-2HG</text>
<text x="379.50" y="546.20" font-size="8.0" text-anchor="end" fill="#111" textLength="16.20" lengthAdjust="spacingAndGlyphs" >Hbα</text>
<text x="379.50" y="559.50" font-size="8.0" text-anchor="end" fill="#111" textLength="35.00" lengthAdjust="spacingAndGlyphs" >Hbβ/γ/δ/ε</text>
<text x="379.50" y="583.30" font-size="8.0" text-anchor="end" fill="#111" textLength="37.50" lengthAdjust="spacingAndGlyphs" >Ponceau S</text>
<clipPath id="c20"><rect x="383.00" y="537.00" width="71.50" height="11.80"/></clipPath><g clip-path="url(#c20)"><rect x="383.00" y="537.00" width="71.50" height="11.80" fill="#8c8c8c"/><rect x="386.75" y="542.10" width="12.50" height="3.60" rx="1.80" fill="#262626" opacity="0.95" filter="url(#b2)"/><rect x="400.50" y="541.30" width="11.00" height="3.40" rx="1.70" fill="#2a2a2a" opacity="0.95" filter="url(#b2)"/><rect x="395.00" y="542.50" width="10.00" height="2.20" rx="1.10" fill="#333" opacity="0.8" filter="url(#b2)"/><rect x="423.25" y="541.70" width="8.50" height="3.20" rx="1.60" fill="#1e1e1e" opacity="0.95" filter="url(#b2)"/><rect x="440.75" y="541.10" width="8.50" height="3.00" rx="1.50" fill="#222" opacity="0.95" filter="url(#b2)"/><rect x="431.50" y="542.10" width="9.00" height="1.00" rx="0.50" fill="#444" opacity="0.7" filter="url(#b1)"/></g>
<clipPath id="c21"><rect x="383.00" y="551.20" width="71.50" height="12.10"/></clipPath><g clip-path="url(#c21)"><rect x="383.00" y="551.20" width="71.50" height="12.10" fill="#989898"/><rect x="385.50" y="555.80" width="15.00" height="5.00" rx="2.50" fill="#040404" opacity="1" filter="url(#b2)"/><rect x="400.00" y="555.10" width="14.00" height="5.00" rx="2.50" fill="#040404" opacity="1" filter="url(#b2)"/><rect x="395.00" y="556.20" width="10.00" height="3.60" rx="1.80" fill="#0a0a0a" opacity="0.95" filter="url(#b2)"/><rect x="424.50" y="556.70" width="7.00" height="2.80" rx="1.40" fill="#0c0c0c" opacity="0.95" filter="url(#b2)"/><rect x="441.75" y="555.40" width="8.50" height="4.20" rx="2.10" fill="#060606" opacity="1" filter="url(#b2)"/></g>
<clipPath id="c22"><rect x="383.00" y="565.00" width="71.50" height="37.00"/></clipPath><g clip-path="url(#c22)"><rect x="383.00" y="565.00" width="71.50" height="37.00" fill="#5c5c5c"/><rect x="385.00" y="565.50" width="15.00" height="37.00" rx="7.50" fill="#404040" opacity="0.75" filter="url(#b2)"/><rect x="386.00" y="568.70" width="13.00" height="1.60" rx="0.80" fill="#303030" opacity="0.42" filter="url(#b15)"/><rect x="386.00" y="572.70" width="13.00" height="1.60" rx="0.80" fill="#303030" opacity="0.3" filter="url(#b15)"/><rect x="386.00" y="576.70" width="13.00" height="1.60" rx="0.80" fill="#303030" opacity="0.42" filter="url(#b15)"/><rect x="386.00" y="580.70" width="13.00" height="1.60" rx="0.80" fill="#303030" opacity="0.3" filter="url(#b15)"/><rect x="386.00" y="584.70" width="13.00" height="1.60" rx="0.80" fill="#303030" opacity="0.42" filter="url(#b15)"/><rect x="386.00" y="588.70" width="13.00" height="1.60" rx="0.80" fill="#303030" opacity="0.3" filter="url(#b15)"/><rect x="386.00" y="592.70" width="13.00" height="1.60" rx="0.80" fill="#303030" opacity="0.42" filter="url(#b15)"/><rect x="386.00" y="596.70" width="13.00" height="1.60" rx="0.80" fill="#303030" opacity="0.3" filter="url(#b15)"/><rect x="402.00" y="565.50" width="15.00" height="37.00" rx="7.50" fill="#404040" opacity="0.75" filter="url(#b2)"/><rect x="403.00" y="568.70" width="13.00" height="1.60" rx="0.80" fill="#303030" opacity="0.42" filter="url(#b15)"/><rect x="403.00" y="572.70" width="13.00" height="1.60" rx="0.80" fill="#303030" opacity="0.3" filter="url(#b15)"/><rect x="403.00" y="576.70" width="13.00" height="1.60" rx="0.80" fill="#303030" opacity="0.42" filter="url(#b15)"/><rect x="403.00" y="580.70" width="13.00" height="1.60" rx="0.80" fill="#303030" opacity="0.3" filter="url(#b15)"/><rect x="403.00" y="584.70" width="13.00" height="1.60" rx="0.80" fill="#303030" opacity="0.42" filter="url(#b15)"/><rect x="403.00" y="588.70" width="13.00" height="1.60" rx="0.80" fill="#303030" opacity="0.3" filter="url(#b15)"/><rect x="403.00" y="592.70" width="13.00" height="1.60" rx="0.80" fill="#303030" opacity="0.42" filter="url(#b15)"/><rect x="403.00" y="596.70" width="13.00" height="1.60" rx="0.80" fill="#303030" opacity="0.3" filter="url(#b15)"/><rect x="420.50" y="565.50" width="15.00" height="37.00" rx="7.50" fill="#404040" opacity="0.75" filter="url(#b2)"/><rect x="421.50" y="568.70" width="13.00" height="1.60" rx="0.80" fill="#303030" opacity="0.42" filter="url(#b15)"/><rect x="421.50" y="572.70" width="13.00" height="1.60" rx="0.80" fill="#303030" opacity="0.3" filter="url(#b15)"/><rect x="421.50" y="576.70" width="13.00" height="1.60" rx="0.80" fill="#303030" opacity="0.42" filter="url(#b15)"/><rect x="421.50" y="580.70" width="13.00" height="1.60" rx="0.80" fill="#303030" opacity="0.3" filter="url(#b15)"/><rect x="421.50" y="584.70" width="13.00" height="1.60" rx="0.80" fill="#303030" opacity="0.42" filter="url(#b15)"/><rect x="421.50" y="588.70" width="13.00" height="1.60" rx="0.80" fill="#303030" opacity="0.3" filter="url(#b15)"/><rect x="421.50" y="592.70" width="13.00" height="1.60" rx="0.80" fill="#303030" opacity="0.42" filter="url(#b15)"/><rect x="421.50" y="596.70" width="13.00" height="1.60" rx="0.80" fill="#303030" opacity="0.3" filter="url(#b15)"/><rect x="438.00" y="565.50" width="15.00" height="37.00" rx="7.50" fill="#404040" opacity="0.75" filter="url(#b2)"/><rect x="439.00" y="568.70" width="13.00" height="1.60" rx="0.80" fill="#303030" opacity="0.42" filter="url(#b15)"/><rect x="439.00" y="572.70" width="13.00" height="1.60" rx="0.80" fill="#303030" opacity="0.3" filter="url(#b15)"/><rect x="439.00" y="576.70" width="13.00" height="1.60" rx="0.80" fill="#303030" opacity="0.42" filter="url(#b15)"/><rect x="439.00" y="580.70" width="13.00" height="1.60" rx="0.80" fill="#303030" opacity="0.3" filter="url(#b15)"/><rect x="439.00" y="584.70" width="13.00" height="1.60" rx="0.80" fill="#303030" opacity="0.42" filter="url(#b15)"/><rect x="439.00" y="588.70" width="13.00" height="1.60" rx="0.80" fill="#303030" opacity="0.3" filter="url(#b15)"/><rect x="439.00" y="592.70" width="13.00" height="1.60" rx="0.80" fill="#303030" opacity="0.42" filter="url(#b15)"/><rect x="439.00" y="596.70" width="13.00" height="1.60" rx="0.80" fill="#303030" opacity="0.3" filter="url(#b15)"/><rect x="383.00" y="565.00" width="72.00" height="3.00" rx="1.50" fill="#6e6e6e" opacity="0.5" filter="url(#b2)"/></g>
<rect x="0.5" y="0.5" width="519" height="638" fill="none" stroke="#000" stroke-width="1.2"/>
</svg></body></html>
